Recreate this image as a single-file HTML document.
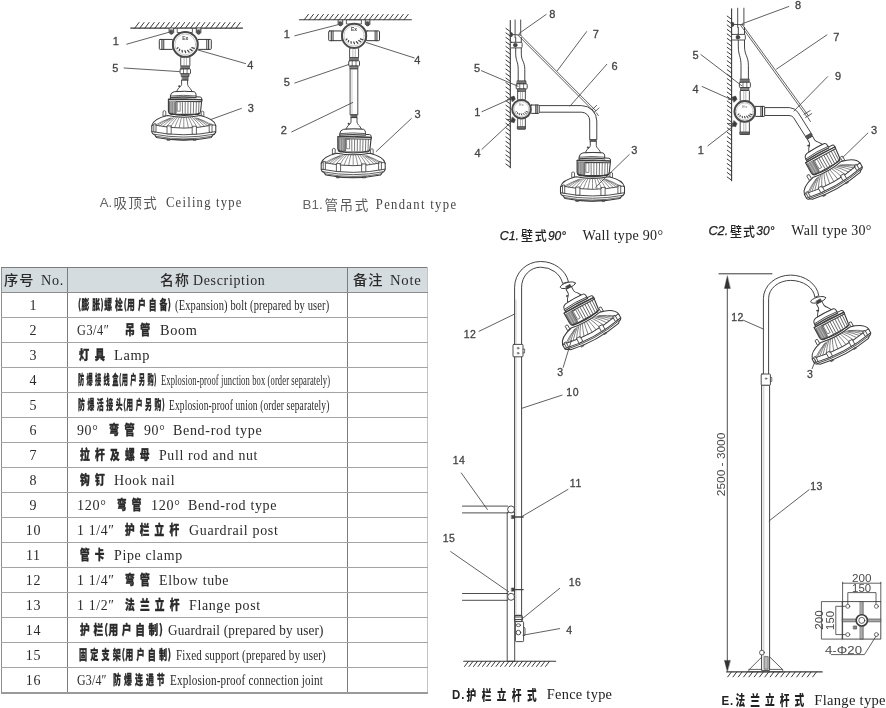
<!DOCTYPE html><html lang="zh-CN"><head><meta charset="utf-8"><title>Installation types</title><style>

html,body{margin:0;padding:0;background:#fff}
#page{position:relative;width:886px;height:708px;overflow:hidden;background:#fff}
#ink{position:absolute;left:0;top:0;width:886px;height:708px;filter:blur(0.5px)}
svg.dwg{position:absolute;left:0;top:0}
table.parts{position:absolute;left:0.7px;top:266.5px;border-collapse:collapse;table-layout:fixed;width:426.8px;
  font-family:"Liberation Serif","Noto Sans CJK SC",serif;color:#2a2a2a}
table.parts th,table.parts td{border-style:solid;border-width:1px;border-color:#a4a4a4 #7c7c7c;height:24px;padding:0;font-weight:normal;overflow:visible}
table.parts th{border-top-color:#7c7c7c;border-bottom-color:#8c8c8c}
table.parts tr>*:first-child{border-left:1px solid #909090}
table.parts tr>*:last-child{border-right-color:#c4c4c4}
table.parts tbody tr:last-child td{border-bottom:2px solid #9a9a9a;height:23px}
table.parts tbody tr:last-child td .cell{height:23px}
table.parts th{background:#d4dcdf}
table.parts td.no{text-align:center;font-size:14px;line-height:24px;letter-spacing:0.7px;padding-right:1.6px}
table.parts td.no span{position:relative;top:1.5px}
.cell{position:relative;height:24px}
.t{position:absolute;top:0;line-height:24px;white-space:nowrap;transform-origin:0 50%}
.l{font-family:"Liberation Serif",serif;font-size:15px;letter-spacing:0.7px;top:0}
.l15{font-size:14.5px;letter-spacing:0.7px;top:0.6px}
.ln{letter-spacing:0.2px}
.c{font-family:"Noto Sans CJK SC","WenQuanYi Zen Hei",sans-serif;font-weight:900;font-size:13px;letter-spacing:7px;top:-1px;-webkit-text-stroke:0.4px #2a2a2a}
.cn{font-family:"Noto Sans CJK SC","WenQuanYi Zen Hei",sans-serif;font-weight:900;font-size:13px;letter-spacing:5px;top:-1px;-webkit-text-stroke:0.3px #2a2a2a}
.p0{font-style:normal;letter-spacing:0.5px}
.p{font-style:normal;letter-spacing:0.5px;margin-left:-3.5px}
.q{font-style:normal;letter-spacing:1px;margin-left:-4px}
.h{font-family:"Noto Sans CJK SC","WenQuanYi Zen Hei",sans-serif;font-weight:500;font-size:13.5px;letter-spacing:1px;top:-0.6px}

</style></head><body><div id="page"><div id="ink">
<svg class="dwg" width="886" height="708" viewBox="0 0 886 708" stroke-linecap="round" stroke-linejoin="round">
<line x1="130.7" y1="28.1" x2="242.6" y2="28.1" stroke="#3a3a3a" stroke-width="1.1" />
<line x1="134.8" y1="28.1" x2="139" y2="22.5" stroke="#3a3a3a" stroke-width="1" />
<line x1="139.86" y1="28.1" x2="144.06" y2="22.5" stroke="#3a3a3a" stroke-width="1" />
<line x1="144.92" y1="28.1" x2="149.12" y2="22.5" stroke="#3a3a3a" stroke-width="1" />
<line x1="149.98" y1="28.1" x2="154.18" y2="22.5" stroke="#3a3a3a" stroke-width="1" />
<line x1="155.04" y1="28.1" x2="159.24" y2="22.5" stroke="#3a3a3a" stroke-width="1" />
<line x1="160.1" y1="28.1" x2="164.3" y2="22.5" stroke="#3a3a3a" stroke-width="1" />
<line x1="165.16" y1="28.1" x2="169.36" y2="22.5" stroke="#3a3a3a" stroke-width="1" />
<line x1="170.22" y1="28.1" x2="174.42" y2="22.5" stroke="#3a3a3a" stroke-width="1" />
<line x1="175.28" y1="28.1" x2="179.48" y2="22.5" stroke="#3a3a3a" stroke-width="1" />
<line x1="180.34" y1="28.1" x2="184.54" y2="22.5" stroke="#3a3a3a" stroke-width="1" />
<line x1="185.4" y1="28.1" x2="189.6" y2="22.5" stroke="#3a3a3a" stroke-width="1" />
<line x1="190.46" y1="28.1" x2="194.66" y2="22.5" stroke="#3a3a3a" stroke-width="1" />
<line x1="195.52" y1="28.1" x2="199.72" y2="22.5" stroke="#3a3a3a" stroke-width="1" />
<line x1="200.58" y1="28.1" x2="204.78" y2="22.5" stroke="#3a3a3a" stroke-width="1" />
<line x1="205.64" y1="28.1" x2="209.84" y2="22.5" stroke="#3a3a3a" stroke-width="1" />
<line x1="210.7" y1="28.1" x2="214.9" y2="22.5" stroke="#3a3a3a" stroke-width="1" />
<line x1="215.76" y1="28.1" x2="219.96" y2="22.5" stroke="#3a3a3a" stroke-width="1" />
<line x1="220.82" y1="28.1" x2="225.02" y2="22.5" stroke="#3a3a3a" stroke-width="1" />
<line x1="225.88" y1="28.1" x2="230.08" y2="22.5" stroke="#3a3a3a" stroke-width="1" />
<line x1="230.94" y1="28.1" x2="235.14" y2="22.5" stroke="#3a3a3a" stroke-width="1" />
<line x1="236" y1="28.1" x2="240.2" y2="22.5" stroke="#3a3a3a" stroke-width="1" />
<rect x="177.6" y="28.3" width="14.8" height="4.2" rx="0" fill="#fff" stroke="#3a3a3a" stroke-width="0.8"/>
<path d="M169.1,28.3 L169.1,32.6 Q171.4,35.8 173.7,32.6 L173.7,28.3" fill="#bbb" stroke="#3a3a3a" stroke-width="0.9" />
<rect x="169.9" y="30.4" width="3" height="3.4" rx="1" fill="#555" stroke="#3a3a3a" stroke-width="0.5"/>
<path d="M196.3,28.3 L196.3,32.6 Q198.6,35.8 200.9,32.6 L200.9,28.3" fill="#bbb" stroke="#3a3a3a" stroke-width="0.9" />
<rect x="197.1" y="30.4" width="3" height="3.4" rx="1" fill="#555" stroke="#3a3a3a" stroke-width="0.5"/>
<g transform="translate(185.3 44.4)" ><rect x="-25.99" y="-4.97" width="13.59" height="9.95" rx="0.8" fill="#fff" stroke="#3a3a3a" stroke-width="1"/><line x1="-23.35" y1="-4.97" x2="-23.35" y2="4.97" stroke="#3a3a3a" stroke-width="1.1" /><line x1="-21.52" y1="-4.97" x2="-21.52" y2="4.97" stroke="#3a3a3a" stroke-width="1" /><rect x="12.4" y="-4.97" width="13.59" height="9.95" rx="0.8" fill="#fff" stroke="#3a3a3a" stroke-width="1"/><line x1="23.35" y1="-4.97" x2="23.35" y2="4.97" stroke="#3a3a3a" stroke-width="1.1" /><line x1="21.52" y1="-4.97" x2="21.52" y2="4.97" stroke="#3a3a3a" stroke-width="1" /><rect x="-4.58" y="12.4" width="9.15" height="9.4" rx="0.6" fill="#fff" stroke="#3a3a3a" stroke-width="0.9"/><line x1="-1.22" y1="13.4" x2="-1.22" y2="20.8" stroke="#888" stroke-width="0.6" /><line x1="1.22" y1="13.4" x2="1.22" y2="20.8" stroke="#888" stroke-width="0.6" /><circle cx="0" cy="0" r="12.4" fill="#fff" stroke="#4a4a4a" stroke-width="2"/><circle cx="0" cy="0" r="10.38" fill="none" stroke="#999" stroke-width="0.5"/><text x="0" y="-4.47" font-family='"Liberation Sans","Noto Sans CJK SC",sans-serif' font-size="5.08" fill="#444" text-anchor="middle" font-weight="bold" >Ex</text><line x1="6.52" y1="3.19" x2="8.95" y2="4.04" stroke="#444" stroke-width="1.27" /><line x1="4.78" y1="4.85" x2="6.8" y2="6.22" stroke="#444" stroke-width="1.27" /><line x1="2.36" y1="5.94" x2="3.82" y2="7.65" stroke="#444" stroke-width="1.27" /><line x1="-0.41" y1="6.33" x2="0.41" y2="8.15" stroke="#444" stroke-width="1.27" /><line x1="-3.18" y1="5.94" x2="-3.01" y2="7.65" stroke="#444" stroke-width="1.27" /><line x1="-5.59" y1="4.85" x2="-5.98" y2="6.22" stroke="#444" stroke-width="1.27" /><line x1="-7.33" y1="3.19" x2="-8.14" y2="4.04" stroke="#444" stroke-width="1.27" /></g>
<rect x="181.24" y="66" width="8.11" height="3.18" rx="0" fill="#777" stroke="#3a3a3a" stroke-width="0.7"/>
<rect x="180.1" y="68.97" width="10.4" height="4.88" rx="0.8" fill="#fff" stroke="#3a3a3a" stroke-width="0.9"/>
<line x1="183.48" y1="68.97" x2="183.48" y2="73.84" stroke="#3a3a3a" stroke-width="0.7" />
<line x1="187.12" y1="68.97" x2="187.12" y2="73.84" stroke="#3a3a3a" stroke-width="0.7" />
<rect x="181.66" y="73.84" width="7.28" height="2.76" rx="0" fill="#888" stroke="#3a3a3a" stroke-width="0.8"/>
<rect x="182.5" y="76.4" width="5.6" height="4.2" rx="0" fill="#777" stroke="#3a3a3a" stroke-width="0.6"/>
<g transform="translate(184.6 80.4)" ><path d="M-3,0 L-3,4 C-3.3,6 -5.2,7 -6.1,7.8 L-8.2,11.2 L7.6,11.2 L5.4,7.8 C4.6,7 3.3,6 3,4 L3,0 Z" fill="#fff" stroke="#3a3a3a" stroke-width="0.9" /><circle cx="-5.4" cy="5.8" r="0.75" fill="#3a3a3a" stroke="#3a3a3a" stroke-width="0.5"/><path d="M-14.2,20.4 L-14.2,15.6 Q-14,12.2 -10.4,11.3 Q0,10.4 9.6,11.3 Q11.4,12 11.4,14.2 L11.4,16.4 L15.6,16.6 Q17.2,16.8 17.2,18.6 L17.2,21 L-14.2,21 Z" fill="#fff" stroke="#3a3a3a" stroke-width="1" /><path d="M-14,15.6 Q-1,14.2 11.4,15.6" fill="none" stroke="#3a3a3a" stroke-width="0.8" /><path d="M-14.1,17.2 Q-1,16.0 11.4,17.2" fill="none" stroke="#444" stroke-width="1.3" /><path d="M-16.2,18.8 L-16.2,30.4 Q-16,33.6 -13.2,34 L13.6,34 Q15.6,33.4 16.0,30.6 L17.2,19.4 Z" fill="#fff" stroke="#3a3a3a" stroke-width="1.1" /><path d="M-16.2,18.8 Q0,17.6 17.2,19.4" fill="none" stroke="#3a3a3a" stroke-width="1" /><path d="M-15.6,21 L-15.6,30.6 Q-15.4,32.6 -13,33 L-8.4,33 L-8.4,21 Z" fill="#8a8a8a" stroke="#3a3a3a" stroke-width="0.6" /><line x1="-13.6" y1="21.6" x2="-13.6" y2="32.6" stroke="#ccc" stroke-width="0.6" /><line x1="-11.2" y1="21.6" x2="-11.2" y2="32.6" stroke="#ccc" stroke-width="0.6" /><rect x="-7" y="21.4" width="2.6" height="9.4" rx="0" fill="#fff" stroke="#3a3a3a" stroke-width="0.6"/><line x1="-2.2" y1="21.6" x2="-2.13" y2="33" stroke="#606060" stroke-width="0.85" /><line x1="0.6" y1="21.6" x2="0.58" y2="33" stroke="#606060" stroke-width="0.85" /><line x1="3.4" y1="21.6" x2="3.3" y2="33" stroke="#606060" stroke-width="0.85" /><line x1="6.2" y1="21.6" x2="6.01" y2="33" stroke="#606060" stroke-width="0.85" /><line x1="9" y1="21.6" x2="8.73" y2="33" stroke="#606060" stroke-width="0.85" /><line x1="11.8" y1="21.6" x2="11.45" y2="33" stroke="#606060" stroke-width="0.85" /><line x1="14.4" y1="21.6" x2="13.97" y2="33" stroke="#606060" stroke-width="0.85" /><path d="M-8.2,20.8 L16.8,21.2" fill="none" stroke="#444" stroke-width="1.1" /><path d="M-15.2,32.8 Q-1,37.2 15.2,32.8" fill="none" stroke="#3a3a3a" stroke-width="1.1" /><path d="M-21.6,35.6 L-21.6,31 Q-20.2,29.6 -18.8,31 L-18.8,34.8 Z" fill="#fff" stroke="#3a3a3a" stroke-width="0.8" /><path d="M16.6,34.8 L16.6,31.4 Q17.9,30.2 19.2,31.4 L19.2,35.8 Z" fill="#fff" stroke="#3a3a3a" stroke-width="0.8" /><g transform="translate(-0.8 0)" ><path d="M-32,45.2 C-31,41 -26.5,37.6 -16.4,35.2 Q0,38.4 16.4,35.2 C26.5,37.6 31,41 32,45.2 L32,51.6 Q31,54.2 29,54.6 L27.4,57 Q0,62.4 -27.4,57 L-29,54.6 Q-31.6,53.8 -32,51.6 Z" fill="#fff" stroke="#3a3a3a" stroke-width="1.05" /><path d="M-32,45.2 Q-30.6,44 -28,44.8 Q0,50.6 28,44.8 Q30.6,44 32,45.2" fill="none" stroke="#3a3a3a" stroke-width="0.9" /><path d="M-31.8,51.2 Q0,57.6 31.8,51.2" fill="none" stroke="#3a3a3a" stroke-width="0.9" /><path d="M-30,53.8 Q0,59.6 30,53.8" fill="none" stroke="#3a3a3a" stroke-width="0.8" /><path d="M-28.4,55.8 Q0,61.2 28.4,55.8" fill="none" stroke="#3a3a3a" stroke-width="0.7" /><path d="M-30,43.82 L-30,51.42 L-27.8,51.42 L-27.8,43.82 Z" fill="#fff" stroke="#3a3a3a" stroke-width="0.8" /><path d="M-16.8,45.88 L-16.8,53.48 L-12.6,53.48 L-12.6,45.88 Z" fill="#fff" stroke="#3a3a3a" stroke-width="0.8" /><path d="M8.4,46.23 L8.4,53.83 L12.6,53.83 L12.6,46.23 Z" fill="#fff" stroke="#3a3a3a" stroke-width="0.8" /><path d="M25.4,44.21 L25.4,51.81 L28.2,51.81 L28.2,44.21 Z" fill="#fff" stroke="#3a3a3a" stroke-width="0.8" /><path d="M-14.09,37.98 Q-22.09,40.85 -28.4,44.71" fill="none" stroke="#555" stroke-width="0.65" /><path d="M-13.14,37.73 Q-20.6,40.9 -26.49,45.06" fill="none" stroke="#555" stroke-width="0.65" /><path d="M-11.89,37.5 Q-18.64,40.99 -23.97,45.49" fill="none" stroke="#555" stroke-width="0.65" /><path d="M-10.36,37.3 Q-16.25,41.12 -20.89,45.95" fill="none" stroke="#555" stroke-width="0.65" /><path d="M-8.59,37.12 Q-13.47,41.26 -17.32,46.4" fill="none" stroke="#555" stroke-width="0.65" /><path d="M-6.63,36.99 Q-10.39,41.4 -13.36,46.81" fill="none" stroke="#555" stroke-width="0.65" /><path d="M-4.5,36.88 Q-7.06,41.5 -9.08,47.13" fill="none" stroke="#555" stroke-width="0.65" /><path d="M-2.28,36.82 Q-3.57,41.58 -4.59,47.33" fill="none" stroke="#555" stroke-width="0.65" /><path d="M0,36.8 Q0,41.6 0,47.4" fill="none" stroke="#555" stroke-width="0.65" /><path d="M2.28,36.82 Q3.57,41.58 4.59,47.33" fill="none" stroke="#555" stroke-width="0.65" /><path d="M4.5,36.88 Q7.06,41.5 9.08,47.13" fill="none" stroke="#555" stroke-width="0.65" /><path d="M6.63,36.99 Q10.39,41.4 13.36,46.81" fill="none" stroke="#555" stroke-width="0.65" /><path d="M8.59,37.12 Q13.47,41.26 17.32,46.4" fill="none" stroke="#555" stroke-width="0.65" /><path d="M10.36,37.3 Q16.25,41.12 20.89,45.95" fill="none" stroke="#555" stroke-width="0.65" /><path d="M11.89,37.5 Q18.64,40.99 23.97,45.49" fill="none" stroke="#555" stroke-width="0.65" /><path d="M13.14,37.73 Q20.6,40.9 26.49,45.06" fill="none" stroke="#555" stroke-width="0.65" /><path d="M14.09,37.98 Q22.09,40.85 28.4,44.71" fill="none" stroke="#555" stroke-width="0.65" /><path d="M-17,58.8 Q-2,60.2 13,58.8" fill="none" stroke="#3a3a3a" stroke-width="0.8" /><rect x="-16.4" y="58.8" width="2.6" height="1.2" rx="0" fill="#666" stroke="#3a3a3a" stroke-width="0.5"/><rect x="9.6" y="58.8" width="2.6" height="1.2" rx="0" fill="#666" stroke="#3a3a3a" stroke-width="0.5"/></g></g>
<line x1="126.7" y1="44.2" x2="170.6" y2="31.8" stroke="#444" stroke-width="0.85" />
<line x1="124.1" y1="68" x2="179.4" y2="71.6" stroke="#444" stroke-width="0.85" />
<line x1="245.6" y1="63.6" x2="198" y2="50" stroke="#444" stroke-width="0.85" />
<line x1="241.4" y1="108.4" x2="210.6" y2="119.6" stroke="#444" stroke-width="0.85" />
<text x="115.8" y="44.76" font-family='"Liberation Sans","Noto Sans CJK SC",sans-serif' font-size="11" fill="#444" text-anchor="middle" stroke="#444" stroke-width="0.3">1</text>
<text x="115.4" y="72.16" font-family='"Liberation Sans","Noto Sans CJK SC",sans-serif' font-size="11" fill="#444" text-anchor="middle" stroke="#444" stroke-width="0.3">5</text>
<text x="250.4" y="68.56" font-family='"Liberation Sans","Noto Sans CJK SC",sans-serif' font-size="11" fill="#444" text-anchor="middle" stroke="#444" stroke-width="0.3">4</text>
<text x="250.8" y="111.96" font-family='"Liberation Sans","Noto Sans CJK SC",sans-serif' font-size="11" fill="#444" text-anchor="middle" stroke="#444" stroke-width="0.3">3</text>
<line x1="299.4" y1="19.8" x2="411.4" y2="19.8" stroke="#3a3a3a" stroke-width="1.1" />
<line x1="304.2" y1="19.8" x2="308.4" y2="14.4" stroke="#3a3a3a" stroke-width="1" />
<line x1="309.19" y1="19.8" x2="313.39" y2="14.4" stroke="#3a3a3a" stroke-width="1" />
<line x1="314.18" y1="19.8" x2="318.38" y2="14.4" stroke="#3a3a3a" stroke-width="1" />
<line x1="319.17" y1="19.8" x2="323.37" y2="14.4" stroke="#3a3a3a" stroke-width="1" />
<line x1="324.16" y1="19.8" x2="328.36" y2="14.4" stroke="#3a3a3a" stroke-width="1" />
<line x1="329.15" y1="19.8" x2="333.35" y2="14.4" stroke="#3a3a3a" stroke-width="1" />
<line x1="334.14" y1="19.8" x2="338.34" y2="14.4" stroke="#3a3a3a" stroke-width="1" />
<line x1="339.13" y1="19.8" x2="343.33" y2="14.4" stroke="#3a3a3a" stroke-width="1" />
<line x1="344.12" y1="19.8" x2="348.32" y2="14.4" stroke="#3a3a3a" stroke-width="1" />
<line x1="349.11" y1="19.8" x2="353.31" y2="14.4" stroke="#3a3a3a" stroke-width="1" />
<line x1="354.1" y1="19.8" x2="358.3" y2="14.4" stroke="#3a3a3a" stroke-width="1" />
<line x1="359.09" y1="19.8" x2="363.29" y2="14.4" stroke="#3a3a3a" stroke-width="1" />
<line x1="364.08" y1="19.8" x2="368.28" y2="14.4" stroke="#3a3a3a" stroke-width="1" />
<line x1="369.07" y1="19.8" x2="373.27" y2="14.4" stroke="#3a3a3a" stroke-width="1" />
<line x1="374.06" y1="19.8" x2="378.26" y2="14.4" stroke="#3a3a3a" stroke-width="1" />
<line x1="379.05" y1="19.8" x2="383.25" y2="14.4" stroke="#3a3a3a" stroke-width="1" />
<line x1="384.04" y1="19.8" x2="388.24" y2="14.4" stroke="#3a3a3a" stroke-width="1" />
<line x1="389.03" y1="19.8" x2="393.23" y2="14.4" stroke="#3a3a3a" stroke-width="1" />
<line x1="394.02" y1="19.8" x2="398.22" y2="14.4" stroke="#3a3a3a" stroke-width="1" />
<line x1="399.01" y1="19.8" x2="403.21" y2="14.4" stroke="#3a3a3a" stroke-width="1" />
<line x1="404" y1="19.8" x2="408.2" y2="14.4" stroke="#3a3a3a" stroke-width="1" />
<rect x="346.8" y="20" width="14.6" height="4" rx="0" fill="#fff" stroke="#3a3a3a" stroke-width="0.8"/>
<path d="M338.1,20 L338.1,24.3 Q340.4,27.4 342.7,24.3 L342.7,20" fill="#bbb" stroke="#3a3a3a" stroke-width="0.9" />
<rect x="338.9" y="22" width="3" height="3.4" rx="1" fill="#555" stroke="#3a3a3a" stroke-width="0.5"/>
<path d="M365.3,20 L365.3,24.3 Q367.6,27.4 369.9,24.3 L369.9,20" fill="#bbb" stroke="#3a3a3a" stroke-width="0.9" />
<rect x="366.1" y="22" width="3" height="3.4" rx="1" fill="#555" stroke="#3a3a3a" stroke-width="0.5"/>
<g transform="translate(354.1 35.8)" ><rect x="-25.41" y="-4.86" width="13.31" height="9.73" rx="0.8" fill="#fff" stroke="#3a3a3a" stroke-width="1"/><line x1="-22.83" y1="-4.86" x2="-22.83" y2="4.86" stroke="#3a3a3a" stroke-width="1.1" /><line x1="-21.04" y1="-4.86" x2="-21.04" y2="4.86" stroke="#3a3a3a" stroke-width="1" /><rect x="12.1" y="-4.86" width="13.31" height="9.73" rx="0.8" fill="#fff" stroke="#3a3a3a" stroke-width="1"/><line x1="22.83" y1="-4.86" x2="22.83" y2="4.86" stroke="#3a3a3a" stroke-width="1.1" /><line x1="21.04" y1="-4.86" x2="21.04" y2="4.86" stroke="#3a3a3a" stroke-width="1" /><rect x="-4.47" y="12.1" width="8.95" height="9.8" rx="0.6" fill="#fff" stroke="#3a3a3a" stroke-width="0.9"/><line x1="-1.19" y1="13.1" x2="-1.19" y2="20.9" stroke="#888" stroke-width="0.6" /><line x1="1.19" y1="13.1" x2="1.19" y2="20.9" stroke="#888" stroke-width="0.6" /><circle cx="0" cy="0" r="12.1" fill="#fff" stroke="#4a4a4a" stroke-width="2"/><circle cx="0" cy="0" r="10.11" fill="none" stroke="#999" stroke-width="0.5"/><text x="0" y="-4.37" font-family='"Liberation Sans","Noto Sans CJK SC",sans-serif' font-size="4.96" fill="#444" text-anchor="middle" font-weight="bold" >Ex</text><line x1="6.34" y1="3.1" x2="8.71" y2="3.94" stroke="#444" stroke-width="1.24" /><line x1="4.64" y1="4.72" x2="6.61" y2="6.06" stroke="#444" stroke-width="1.24" /><line x1="2.29" y1="5.78" x2="3.72" y2="7.45" stroke="#444" stroke-width="1.24" /><line x1="-0.4" y1="6.15" x2="0.4" y2="7.94" stroke="#444" stroke-width="1.24" /><line x1="-3.09" y1="5.78" x2="-2.93" y2="7.45" stroke="#444" stroke-width="1.24" /><line x1="-5.43" y1="4.72" x2="-5.82" y2="6.06" stroke="#444" stroke-width="1.24" /><line x1="-7.13" y1="3.1" x2="-7.91" y2="3.94" stroke="#444" stroke-width="1.24" /></g>
<rect x="349.89" y="57.6" width="8.42" height="3.42" rx="0" fill="#777" stroke="#3a3a3a" stroke-width="0.7"/>
<rect x="348.7" y="60.79" width="10.8" height="5.24" rx="0.8" fill="#fff" stroke="#3a3a3a" stroke-width="0.9"/>
<line x1="352.21" y1="60.79" x2="352.21" y2="66.04" stroke="#3a3a3a" stroke-width="0.7" />
<line x1="355.99" y1="60.79" x2="355.99" y2="66.04" stroke="#3a3a3a" stroke-width="0.7" />
<rect x="350.32" y="66.04" width="7.56" height="2.96" rx="0" fill="#888" stroke="#3a3a3a" stroke-width="0.8"/>
<rect x="350.5" y="68.9" width="7.3" height="46" rx="0" fill="#fff" stroke="#3a3a3a" stroke-width="0.9"/>
<line x1="352" y1="69.5" x2="352" y2="114.5" stroke="#999" stroke-width="0.5" />
<rect x="351.2" y="114.6" width="5.8" height="3.6" rx="0" fill="#666" stroke="#3a3a3a" stroke-width="0.6"/>
<g transform="translate(354 118)" ><path d="M-3,0 L-3,4 C-3.3,6 -5.2,7 -6.1,7.8 L-8.2,11.2 L7.6,11.2 L5.4,7.8 C4.6,7 3.3,6 3,4 L3,0 Z" fill="#fff" stroke="#3a3a3a" stroke-width="0.9" /><circle cx="-5.4" cy="5.8" r="0.75" fill="#3a3a3a" stroke="#3a3a3a" stroke-width="0.5"/><path d="M-14.2,20.4 L-14.2,15.6 Q-14,12.2 -10.4,11.3 Q0,10.4 9.6,11.3 Q11.4,12 11.4,14.2 L11.4,16.4 L15.6,16.6 Q17.2,16.8 17.2,18.6 L17.2,21 L-14.2,21 Z" fill="#fff" stroke="#3a3a3a" stroke-width="1" /><path d="M-14,15.6 Q-1,14.2 11.4,15.6" fill="none" stroke="#3a3a3a" stroke-width="0.8" /><path d="M-14.1,17.2 Q-1,16.0 11.4,17.2" fill="none" stroke="#444" stroke-width="1.3" /><path d="M-16.2,18.8 L-16.2,30.4 Q-16,33.6 -13.2,34 L13.6,34 Q15.6,33.4 16.0,30.6 L17.2,19.4 Z" fill="#fff" stroke="#3a3a3a" stroke-width="1.1" /><path d="M-16.2,18.8 Q0,17.6 17.2,19.4" fill="none" stroke="#3a3a3a" stroke-width="1" /><path d="M-15.6,21 L-15.6,30.6 Q-15.4,32.6 -13,33 L-8.4,33 L-8.4,21 Z" fill="#8a8a8a" stroke="#3a3a3a" stroke-width="0.6" /><line x1="-13.6" y1="21.6" x2="-13.6" y2="32.6" stroke="#ccc" stroke-width="0.6" /><line x1="-11.2" y1="21.6" x2="-11.2" y2="32.6" stroke="#ccc" stroke-width="0.6" /><rect x="-7" y="21.4" width="2.6" height="9.4" rx="0" fill="#fff" stroke="#3a3a3a" stroke-width="0.6"/><line x1="-2.2" y1="21.6" x2="-2.13" y2="33" stroke="#606060" stroke-width="0.85" /><line x1="0.6" y1="21.6" x2="0.58" y2="33" stroke="#606060" stroke-width="0.85" /><line x1="3.4" y1="21.6" x2="3.3" y2="33" stroke="#606060" stroke-width="0.85" /><line x1="6.2" y1="21.6" x2="6.01" y2="33" stroke="#606060" stroke-width="0.85" /><line x1="9" y1="21.6" x2="8.73" y2="33" stroke="#606060" stroke-width="0.85" /><line x1="11.8" y1="21.6" x2="11.45" y2="33" stroke="#606060" stroke-width="0.85" /><line x1="14.4" y1="21.6" x2="13.97" y2="33" stroke="#606060" stroke-width="0.85" /><path d="M-8.2,20.8 L16.8,21.2" fill="none" stroke="#444" stroke-width="1.1" /><path d="M-15.2,32.8 Q-1,37.2 15.2,32.8" fill="none" stroke="#3a3a3a" stroke-width="1.1" /><path d="M-21.6,35.6 L-21.6,31 Q-20.2,29.6 -18.8,31 L-18.8,34.8 Z" fill="#fff" stroke="#3a3a3a" stroke-width="0.8" /><path d="M16.6,34.8 L16.6,31.4 Q17.9,30.2 19.2,31.4 L19.2,35.8 Z" fill="#fff" stroke="#3a3a3a" stroke-width="0.8" /><g transform="translate(-0.8 0)" ><path d="M-32,45.2 C-31,41 -26.5,37.6 -16.4,35.2 Q0,38.4 16.4,35.2 C26.5,37.6 31,41 32,45.2 L32,51.6 Q31,54.2 29,54.6 L27.4,57 Q0,62.4 -27.4,57 L-29,54.6 Q-31.6,53.8 -32,51.6 Z" fill="#fff" stroke="#3a3a3a" stroke-width="1.05" /><path d="M-32,45.2 Q-30.6,44 -28,44.8 Q0,50.6 28,44.8 Q30.6,44 32,45.2" fill="none" stroke="#3a3a3a" stroke-width="0.9" /><path d="M-31.8,51.2 Q0,57.6 31.8,51.2" fill="none" stroke="#3a3a3a" stroke-width="0.9" /><path d="M-30,53.8 Q0,59.6 30,53.8" fill="none" stroke="#3a3a3a" stroke-width="0.8" /><path d="M-28.4,55.8 Q0,61.2 28.4,55.8" fill="none" stroke="#3a3a3a" stroke-width="0.7" /><path d="M-30,43.82 L-30,51.42 L-27.8,51.42 L-27.8,43.82 Z" fill="#fff" stroke="#3a3a3a" stroke-width="0.8" /><path d="M-16.8,45.88 L-16.8,53.48 L-12.6,53.48 L-12.6,45.88 Z" fill="#fff" stroke="#3a3a3a" stroke-width="0.8" /><path d="M8.4,46.23 L8.4,53.83 L12.6,53.83 L12.6,46.23 Z" fill="#fff" stroke="#3a3a3a" stroke-width="0.8" /><path d="M25.4,44.21 L25.4,51.81 L28.2,51.81 L28.2,44.21 Z" fill="#fff" stroke="#3a3a3a" stroke-width="0.8" /><path d="M-14.09,37.98 Q-22.09,40.85 -28.4,44.71" fill="none" stroke="#555" stroke-width="0.65" /><path d="M-13.14,37.73 Q-20.6,40.9 -26.49,45.06" fill="none" stroke="#555" stroke-width="0.65" /><path d="M-11.89,37.5 Q-18.64,40.99 -23.97,45.49" fill="none" stroke="#555" stroke-width="0.65" /><path d="M-10.36,37.3 Q-16.25,41.12 -20.89,45.95" fill="none" stroke="#555" stroke-width="0.65" /><path d="M-8.59,37.12 Q-13.47,41.26 -17.32,46.4" fill="none" stroke="#555" stroke-width="0.65" /><path d="M-6.63,36.99 Q-10.39,41.4 -13.36,46.81" fill="none" stroke="#555" stroke-width="0.65" /><path d="M-4.5,36.88 Q-7.06,41.5 -9.08,47.13" fill="none" stroke="#555" stroke-width="0.65" /><path d="M-2.28,36.82 Q-3.57,41.58 -4.59,47.33" fill="none" stroke="#555" stroke-width="0.65" /><path d="M0,36.8 Q0,41.6 0,47.4" fill="none" stroke="#555" stroke-width="0.65" /><path d="M2.28,36.82 Q3.57,41.58 4.59,47.33" fill="none" stroke="#555" stroke-width="0.65" /><path d="M4.5,36.88 Q7.06,41.5 9.08,47.13" fill="none" stroke="#555" stroke-width="0.65" /><path d="M6.63,36.99 Q10.39,41.4 13.36,46.81" fill="none" stroke="#555" stroke-width="0.65" /><path d="M8.59,37.12 Q13.47,41.26 17.32,46.4" fill="none" stroke="#555" stroke-width="0.65" /><path d="M10.36,37.3 Q16.25,41.12 20.89,45.95" fill="none" stroke="#555" stroke-width="0.65" /><path d="M11.89,37.5 Q18.64,40.99 23.97,45.49" fill="none" stroke="#555" stroke-width="0.65" /><path d="M13.14,37.73 Q20.6,40.9 26.49,45.06" fill="none" stroke="#555" stroke-width="0.65" /><path d="M14.09,37.98 Q22.09,40.85 28.4,44.71" fill="none" stroke="#555" stroke-width="0.65" /><path d="M-17,58.8 Q-2,60.2 13,58.8" fill="none" stroke="#3a3a3a" stroke-width="0.8" /><rect x="-16.4" y="58.8" width="2.6" height="1.2" rx="0" fill="#666" stroke="#3a3a3a" stroke-width="0.5"/><rect x="9.6" y="58.8" width="2.6" height="1.2" rx="0" fill="#666" stroke="#3a3a3a" stroke-width="0.5"/></g></g>
<line x1="294.8" y1="35.8" x2="338.4" y2="24.6" stroke="#444" stroke-width="0.85" />
<line x1="294.8" y1="83" x2="349" y2="64.4" stroke="#444" stroke-width="0.85" />
<line x1="414.2" y1="57.9" x2="366.4" y2="42.6" stroke="#444" stroke-width="0.85" />
<line x1="291.7" y1="131.9" x2="352.7" y2="102.5" stroke="#444" stroke-width="0.85" />
<line x1="411.4" y1="118.5" x2="376.2" y2="151.5" stroke="#444" stroke-width="0.85" />
<text x="286.9" y="37.96" font-family='"Liberation Sans","Noto Sans CJK SC",sans-serif' font-size="11" fill="#444" text-anchor="middle" stroke="#444" stroke-width="0.3">1</text>
<text x="286.9" y="86.16" font-family='"Liberation Sans","Noto Sans CJK SC",sans-serif' font-size="11" fill="#444" text-anchor="middle" stroke="#444" stroke-width="0.3">5</text>
<text x="417.3" y="63.76" font-family='"Liberation Sans","Noto Sans CJK SC",sans-serif' font-size="11" fill="#444" text-anchor="middle" stroke="#444" stroke-width="0.3">4</text>
<text x="417.6" y="117.76" font-family='"Liberation Sans","Noto Sans CJK SC",sans-serif' font-size="11" fill="#444" text-anchor="middle" stroke="#444" stroke-width="0.3">3</text>
<text x="283.8" y="133.96" font-family='"Liberation Sans","Noto Sans CJK SC",sans-serif' font-size="11" fill="#444" text-anchor="middle" stroke="#444" stroke-width="0.3">2</text>
<path d="M538.6,105.6 L581.4,105.6 A15.4,15.4 0 0 1 596.8,121 L596.8,139.8 L589.7,139.8 L589.7,121 A8.3,8.3 0 0 0 581.4,112.2 L538.6,112.2 Z" fill="#fff" stroke="#3a3a3a" stroke-width="0.95" />
<rect x="590.4" y="139.6" width="5.8" height="2.6" rx="0" fill="#666" stroke="#3a3a3a" stroke-width="0.6"/>
<line x1="510.3" y1="20.6" x2="510.3" y2="167.7" stroke="#3a3a3a" stroke-width="1.1" />
<line x1="510.3" y1="31.6" x2="505.9" y2="28.4" stroke="#3a3a3a" stroke-width="1" />
<line x1="510.3" y1="36.12" x2="505.9" y2="32.92" stroke="#3a3a3a" stroke-width="1" />
<line x1="510.3" y1="40.64" x2="505.9" y2="37.44" stroke="#3a3a3a" stroke-width="1" />
<line x1="510.3" y1="45.16" x2="505.9" y2="41.96" stroke="#3a3a3a" stroke-width="1" />
<line x1="510.3" y1="49.68" x2="505.9" y2="46.48" stroke="#3a3a3a" stroke-width="1" />
<line x1="510.3" y1="54.2" x2="505.9" y2="51" stroke="#3a3a3a" stroke-width="1" />
<line x1="510.3" y1="58.72" x2="505.9" y2="55.52" stroke="#3a3a3a" stroke-width="1" />
<line x1="510.3" y1="63.24" x2="505.9" y2="60.04" stroke="#3a3a3a" stroke-width="1" />
<line x1="510.3" y1="67.76" x2="505.9" y2="64.56" stroke="#3a3a3a" stroke-width="1" />
<line x1="510.3" y1="72.28" x2="505.9" y2="69.08" stroke="#3a3a3a" stroke-width="1" />
<line x1="510.3" y1="76.8" x2="505.9" y2="73.6" stroke="#3a3a3a" stroke-width="1" />
<line x1="510.3" y1="81.32" x2="505.9" y2="78.12" stroke="#3a3a3a" stroke-width="1" />
<line x1="510.3" y1="85.84" x2="505.9" y2="82.64" stroke="#3a3a3a" stroke-width="1" />
<line x1="510.3" y1="90.36" x2="505.9" y2="87.16" stroke="#3a3a3a" stroke-width="1" />
<line x1="510.3" y1="94.88" x2="505.9" y2="91.68" stroke="#3a3a3a" stroke-width="1" />
<line x1="510.3" y1="99.4" x2="505.9" y2="96.2" stroke="#3a3a3a" stroke-width="1" />
<line x1="510.3" y1="103.92" x2="505.9" y2="100.72" stroke="#3a3a3a" stroke-width="1" />
<line x1="510.3" y1="108.44" x2="505.9" y2="105.24" stroke="#3a3a3a" stroke-width="1" />
<line x1="510.3" y1="112.96" x2="505.9" y2="109.76" stroke="#3a3a3a" stroke-width="1" />
<line x1="510.3" y1="117.48" x2="505.9" y2="114.28" stroke="#3a3a3a" stroke-width="1" />
<line x1="510.3" y1="122" x2="505.9" y2="118.8" stroke="#3a3a3a" stroke-width="1" />
<line x1="510.3" y1="126.52" x2="505.9" y2="123.32" stroke="#3a3a3a" stroke-width="1" />
<line x1="510.3" y1="131.04" x2="505.9" y2="127.84" stroke="#3a3a3a" stroke-width="1" />
<line x1="510.3" y1="135.56" x2="505.9" y2="132.36" stroke="#3a3a3a" stroke-width="1" />
<line x1="510.3" y1="140.08" x2="505.9" y2="136.88" stroke="#3a3a3a" stroke-width="1" />
<line x1="510.3" y1="144.6" x2="505.9" y2="141.4" stroke="#3a3a3a" stroke-width="1" />
<line x1="510.3" y1="149.12" x2="505.9" y2="145.92" stroke="#3a3a3a" stroke-width="1" />
<line x1="510.3" y1="153.64" x2="505.9" y2="150.44" stroke="#3a3a3a" stroke-width="1" />
<line x1="510.3" y1="158.16" x2="505.9" y2="154.96" stroke="#3a3a3a" stroke-width="1" />
<line x1="510.3" y1="162.68" x2="505.9" y2="159.48" stroke="#3a3a3a" stroke-width="1" />
<line x1="510.3" y1="167.2" x2="505.9" y2="164" stroke="#3a3a3a" stroke-width="1" />
<line x1="515.1" y1="20" x2="515.1" y2="37.6" stroke="#3a3a3a" stroke-width="0.9" />
<line x1="520.7" y1="20" x2="520.7" y2="33.6" stroke="#3a3a3a" stroke-width="0.9" />
<path d="M510.5,32.3 a2.3,2.3 0 0 1 0,4.6 Z" fill="#444" stroke="#3a3a3a" stroke-width="0.5" />
<line x1="512.7" y1="34.6" x2="521.1" y2="35" stroke="#3a3a3a" stroke-width="0.9" />
<path d="M515.7,37.6 L515.7,53.15 C515.7,61.36 518.2,61.36 518.2,69.57 L518.2,80.8" fill="none" stroke="#3a3a3a" stroke-width="0.95" />
<path d="M521.3,37.6 L521.3,53.15 C521.3,61.36 524.8,61.36 524.8,69.57 L524.8,80.8" fill="none" stroke="#3a3a3a" stroke-width="0.95" />
<rect x="510.3" y="42.3" width="11.8" height="5.6" rx="1" fill="#fff" stroke="#3a3a3a" stroke-width="0.9"/>
<circle cx="515.3" cy="45.1" r="1.9" fill="#444" stroke="#3a3a3a" stroke-width="0.6"/>
<rect x="517.41" y="80.8" width="8.58" height="3.3" rx="0" fill="#777" stroke="#3a3a3a" stroke-width="0.7"/>
<rect x="516.2" y="83.88" width="11" height="5.06" rx="0.8" fill="#fff" stroke="#3a3a3a" stroke-width="0.9"/>
<line x1="519.78" y1="83.88" x2="519.78" y2="88.94" stroke="#3a3a3a" stroke-width="0.7" />
<line x1="523.62" y1="83.88" x2="523.62" y2="88.94" stroke="#3a3a3a" stroke-width="0.7" />
<rect x="517.85" y="88.94" width="7.7" height="2.86" rx="0" fill="#888" stroke="#3a3a3a" stroke-width="0.8"/>
<g transform="translate(521.5 109.2)" ><rect x="-3.86" y="-17.9" width="7.73" height="8.6" rx="0.6" fill="#fff" stroke="#3a3a3a" stroke-width="0.9"/><line x1="-0.94" y1="-10.3" x2="-0.94" y2="-16.9" stroke="#888" stroke-width="0.6" /><line x1="0.94" y1="-10.3" x2="0.94" y2="-16.9" stroke="#888" stroke-width="0.6" /><rect x="-3.86" y="9.3" width="7.73" height="10.6" rx="0.6" fill="#fff" stroke="#3a3a3a" stroke-width="0.9"/><line x1="-0.94" y1="10.3" x2="-0.94" y2="18.9" stroke="#888" stroke-width="0.6" /><line x1="0.94" y1="10.3" x2="0.94" y2="18.9" stroke="#888" stroke-width="0.6" /><rect x="-3.86" y="17.3" width="7.73" height="2.6" rx="0" fill="#666" stroke="#3a3a3a" stroke-width="0.6"/><rect x="9.3" y="-4.2" width="8.4" height="8.4" rx="0.8" fill="#fff" stroke="#3a3a3a" stroke-width="1"/><line x1="15.67" y1="-4.2" x2="15.67" y2="4.2" stroke="#3a3a3a" stroke-width="1.1" /><line x1="14.27" y1="-4.2" x2="14.27" y2="4.2" stroke="#3a3a3a" stroke-width="1" /><circle cx="0" cy="0" r="9.3" fill="#fff" stroke="#4a4a4a" stroke-width="2"/><circle cx="0" cy="0" r="7.52" fill="none" stroke="#999" stroke-width="0.5"/><text x="0" y="-3.43" font-family='"Liberation Sans","Noto Sans CJK SC",sans-serif' font-size="3.9" fill="#777" text-anchor="middle" >Ex</text><line x1="4.6" y1="2.28" x2="6.47" y2="2.94" stroke="#444" stroke-width="0.98" /><line x1="3.37" y1="3.46" x2="4.92" y2="4.51" stroke="#444" stroke-width="0.98" /><line x1="1.65" y1="4.23" x2="2.77" y2="5.55" stroke="#444" stroke-width="0.98" /><line x1="-0.31" y1="4.5" x2="0.31" y2="5.91" stroke="#444" stroke-width="0.98" /><line x1="-2.28" y1="4.23" x2="-2.15" y2="5.55" stroke="#444" stroke-width="0.98" /><line x1="-3.99" y1="3.46" x2="-4.29" y2="4.51" stroke="#444" stroke-width="0.98" /><line x1="-5.23" y1="2.28" x2="-5.85" y2="2.94" stroke="#444" stroke-width="0.98" /></g>
<path d="M510.5,97.3 l3.6,-1.2 l1.2,3 l-2.6,2.6 Z" fill="#3a3a3a" stroke="#3a3a3a" stroke-width="0.6" />
<line x1="507.3" y1="99.3" x2="511.3" y2="99.3" stroke="#555" stroke-width="1" />
<path d="M510.5,121.5 l3.6,1.2 l1.2,-3 l-2.6,-2.6 Z" fill="#3a3a3a" stroke="#3a3a3a" stroke-width="0.6" />
<line x1="507.3" y1="119.5" x2="511.3" y2="119.5" stroke="#555" stroke-width="1" />
<line x1="518.2" y1="35.4" x2="594.4" y2="111.9" stroke="#3a3a3a" stroke-width="0.8" />
<line x1="519.6" y1="34.2" x2="595.8" y2="110.7" stroke="#3a3a3a" stroke-width="0.8" />
<path d="M592.2,109.6 L596.6,105.4 M594.2,112.4 L599.0,108.0 M596.4,112.8 L598.4,115.6" fill="none" stroke="#3a3a3a" stroke-width="0.8" />
<g transform="translate(593.3 141.6)" ><path d="M-3,0 L-3,4 C-3.3,6 -5.2,7 -6.1,7.8 L-8.2,11.2 L7.6,11.2 L5.4,7.8 C4.6,7 3.3,6 3,4 L3,0 Z" fill="#fff" stroke="#3a3a3a" stroke-width="0.9" /><circle cx="-5.4" cy="5.8" r="0.75" fill="#3a3a3a" stroke="#3a3a3a" stroke-width="0.5"/><path d="M-14.2,20.4 L-14.2,15.6 Q-14,12.2 -10.4,11.3 Q0,10.4 9.6,11.3 Q11.4,12 11.4,14.2 L11.4,16.4 L15.6,16.6 Q17.2,16.8 17.2,18.6 L17.2,21 L-14.2,21 Z" fill="#fff" stroke="#3a3a3a" stroke-width="1" /><path d="M-14,15.6 Q-1,14.2 11.4,15.6" fill="none" stroke="#3a3a3a" stroke-width="0.8" /><path d="M-14.1,17.2 Q-1,16.0 11.4,17.2" fill="none" stroke="#444" stroke-width="1.3" /><path d="M-16.2,18.8 L-16.2,30.4 Q-16,33.6 -13.2,34 L13.6,34 Q15.6,33.4 16.0,30.6 L17.2,19.4 Z" fill="#fff" stroke="#3a3a3a" stroke-width="1.1" /><path d="M-16.2,18.8 Q0,17.6 17.2,19.4" fill="none" stroke="#3a3a3a" stroke-width="1" /><path d="M-15.6,21 L-15.6,30.6 Q-15.4,32.6 -13,33 L-8.4,33 L-8.4,21 Z" fill="#8a8a8a" stroke="#3a3a3a" stroke-width="0.6" /><line x1="-13.6" y1="21.6" x2="-13.6" y2="32.6" stroke="#ccc" stroke-width="0.6" /><line x1="-11.2" y1="21.6" x2="-11.2" y2="32.6" stroke="#ccc" stroke-width="0.6" /><rect x="-7" y="21.4" width="2.6" height="9.4" rx="0" fill="#fff" stroke="#3a3a3a" stroke-width="0.6"/><line x1="-2.2" y1="21.6" x2="-2.13" y2="33" stroke="#606060" stroke-width="0.85" /><line x1="0.6" y1="21.6" x2="0.58" y2="33" stroke="#606060" stroke-width="0.85" /><line x1="3.4" y1="21.6" x2="3.3" y2="33" stroke="#606060" stroke-width="0.85" /><line x1="6.2" y1="21.6" x2="6.01" y2="33" stroke="#606060" stroke-width="0.85" /><line x1="9" y1="21.6" x2="8.73" y2="33" stroke="#606060" stroke-width="0.85" /><line x1="11.8" y1="21.6" x2="11.45" y2="33" stroke="#606060" stroke-width="0.85" /><line x1="14.4" y1="21.6" x2="13.97" y2="33" stroke="#606060" stroke-width="0.85" /><path d="M-8.2,20.8 L16.8,21.2" fill="none" stroke="#444" stroke-width="1.1" /><path d="M-15.2,32.8 Q-1,37.2 15.2,32.8" fill="none" stroke="#3a3a3a" stroke-width="1.1" /><path d="M-21.6,35.6 L-21.6,31 Q-20.2,29.6 -18.8,31 L-18.8,34.8 Z" fill="#fff" stroke="#3a3a3a" stroke-width="0.8" /><path d="M16.6,34.8 L16.6,31.4 Q17.9,30.2 19.2,31.4 L19.2,35.8 Z" fill="#fff" stroke="#3a3a3a" stroke-width="0.8" /><g transform="translate(-0.8 0)" ><path d="M-32,45.2 C-31,41 -26.5,37.6 -16.4,35.2 Q0,38.4 16.4,35.2 C26.5,37.6 31,41 32,45.2 L32,51.6 Q31,54.2 29,54.6 L27.4,57 Q0,62.4 -27.4,57 L-29,54.6 Q-31.6,53.8 -32,51.6 Z" fill="#fff" stroke="#3a3a3a" stroke-width="1.05" /><path d="M-32,45.2 Q-30.6,44 -28,44.8 Q0,50.6 28,44.8 Q30.6,44 32,45.2" fill="none" stroke="#3a3a3a" stroke-width="0.9" /><path d="M-31.8,51.2 Q0,57.6 31.8,51.2" fill="none" stroke="#3a3a3a" stroke-width="0.9" /><path d="M-30,53.8 Q0,59.6 30,53.8" fill="none" stroke="#3a3a3a" stroke-width="0.8" /><path d="M-28.4,55.8 Q0,61.2 28.4,55.8" fill="none" stroke="#3a3a3a" stroke-width="0.7" /><path d="M-30,43.82 L-30,51.42 L-27.8,51.42 L-27.8,43.82 Z" fill="#fff" stroke="#3a3a3a" stroke-width="0.8" /><path d="M-16.8,45.88 L-16.8,53.48 L-12.6,53.48 L-12.6,45.88 Z" fill="#fff" stroke="#3a3a3a" stroke-width="0.8" /><path d="M8.4,46.23 L8.4,53.83 L12.6,53.83 L12.6,46.23 Z" fill="#fff" stroke="#3a3a3a" stroke-width="0.8" /><path d="M25.4,44.21 L25.4,51.81 L28.2,51.81 L28.2,44.21 Z" fill="#fff" stroke="#3a3a3a" stroke-width="0.8" /><path d="M-14.09,37.98 Q-22.09,40.85 -28.4,44.71" fill="none" stroke="#555" stroke-width="0.65" /><path d="M-13.14,37.73 Q-20.6,40.9 -26.49,45.06" fill="none" stroke="#555" stroke-width="0.65" /><path d="M-11.89,37.5 Q-18.64,40.99 -23.97,45.49" fill="none" stroke="#555" stroke-width="0.65" /><path d="M-10.36,37.3 Q-16.25,41.12 -20.89,45.95" fill="none" stroke="#555" stroke-width="0.65" /><path d="M-8.59,37.12 Q-13.47,41.26 -17.32,46.4" fill="none" stroke="#555" stroke-width="0.65" /><path d="M-6.63,36.99 Q-10.39,41.4 -13.36,46.81" fill="none" stroke="#555" stroke-width="0.65" /><path d="M-4.5,36.88 Q-7.06,41.5 -9.08,47.13" fill="none" stroke="#555" stroke-width="0.65" /><path d="M-2.28,36.82 Q-3.57,41.58 -4.59,47.33" fill="none" stroke="#555" stroke-width="0.65" /><path d="M0,36.8 Q0,41.6 0,47.4" fill="none" stroke="#555" stroke-width="0.65" /><path d="M2.28,36.82 Q3.57,41.58 4.59,47.33" fill="none" stroke="#555" stroke-width="0.65" /><path d="M4.5,36.88 Q7.06,41.5 9.08,47.13" fill="none" stroke="#555" stroke-width="0.65" /><path d="M6.63,36.99 Q10.39,41.4 13.36,46.81" fill="none" stroke="#555" stroke-width="0.65" /><path d="M8.59,37.12 Q13.47,41.26 17.32,46.4" fill="none" stroke="#555" stroke-width="0.65" /><path d="M10.36,37.3 Q16.25,41.12 20.89,45.95" fill="none" stroke="#555" stroke-width="0.65" /><path d="M11.89,37.5 Q18.64,40.99 23.97,45.49" fill="none" stroke="#555" stroke-width="0.65" /><path d="M13.14,37.73 Q20.6,40.9 26.49,45.06" fill="none" stroke="#555" stroke-width="0.65" /><path d="M14.09,37.98 Q22.09,40.85 28.4,44.71" fill="none" stroke="#555" stroke-width="0.65" /><path d="M-17,58.8 Q-2,60.2 13,58.8" fill="none" stroke="#3a3a3a" stroke-width="0.8" /><rect x="-16.4" y="58.8" width="2.6" height="1.2" rx="0" fill="#666" stroke="#3a3a3a" stroke-width="0.5"/><rect x="9.6" y="58.8" width="2.6" height="1.2" rx="0" fill="#666" stroke="#3a3a3a" stroke-width="0.5"/></g></g>
<line x1="546.2" y1="14.4" x2="519.2" y2="33.4" stroke="#444" stroke-width="0.85" />
<line x1="586.6" y1="31.6" x2="557.3" y2="70.7" stroke="#444" stroke-width="0.85" />
<line x1="606.8" y1="64.3" x2="570.1" y2="106" stroke="#444" stroke-width="0.85" />
<line x1="481.4" y1="70.7" x2="518.1" y2="86.3" stroke="#444" stroke-width="0.85" />
<line x1="481.9" y1="111.7" x2="511.3" y2="98.6" stroke="#444" stroke-width="0.85" />
<line x1="481.9" y1="149.3" x2="513.8" y2="119.6" stroke="#444" stroke-width="0.85" />
<line x1="629.3" y1="154.5" x2="595.6" y2="187.2" stroke="#444" stroke-width="0.85" />
<text x="552.3" y="17.76" font-family='"Liberation Sans","Noto Sans CJK SC",sans-serif' font-size="11" fill="#444" text-anchor="middle" stroke="#444" stroke-width="0.3">8</text>
<text x="595.8" y="37.56" font-family='"Liberation Sans","Noto Sans CJK SC",sans-serif' font-size="11" fill="#444" text-anchor="middle" stroke="#444" stroke-width="0.3">7</text>
<text x="614.6" y="69.76" font-family='"Liberation Sans","Noto Sans CJK SC",sans-serif' font-size="11" fill="#444" text-anchor="middle" stroke="#444" stroke-width="0.3">6</text>
<text x="477" y="71.96" font-family='"Liberation Sans","Noto Sans CJK SC",sans-serif' font-size="11" fill="#444" text-anchor="middle" stroke="#444" stroke-width="0.3">5</text>
<text x="477.2" y="115.76" font-family='"Liberation Sans","Noto Sans CJK SC",sans-serif' font-size="11" fill="#444" text-anchor="middle" stroke="#444" stroke-width="0.3">1</text>
<text x="477.6" y="156.76" font-family='"Liberation Sans","Noto Sans CJK SC",sans-serif' font-size="11" fill="#444" text-anchor="middle" stroke="#444" stroke-width="0.3">4</text>
<text x="634.3" y="154.36" font-family='"Liberation Sans","Noto Sans CJK SC",sans-serif' font-size="11" fill="#444" text-anchor="middle" stroke="#444" stroke-width="0.3">3</text>
<path d="M764.5,107.6 L789.6,107.6 Q795.2,108.2 798.0,112.4 L812.2,134.9 L806.6,138.2 L793.4,117.4 Q792.0,115.6 789.0,115.5 L764.5,115.5 Z" fill="#fff" stroke="#3a3a3a" stroke-width="0.95" />
<line x1="731.6" y1="8.8" x2="731.6" y2="180.7" stroke="#3a3a3a" stroke-width="1.1" />
<line x1="731.6" y1="19.3" x2="727.2" y2="16.1" stroke="#3a3a3a" stroke-width="1" />
<line x1="731.6" y1="23.77" x2="727.2" y2="20.57" stroke="#3a3a3a" stroke-width="1" />
<line x1="731.6" y1="28.24" x2="727.2" y2="25.04" stroke="#3a3a3a" stroke-width="1" />
<line x1="731.6" y1="32.71" x2="727.2" y2="29.51" stroke="#3a3a3a" stroke-width="1" />
<line x1="731.6" y1="37.18" x2="727.2" y2="33.98" stroke="#3a3a3a" stroke-width="1" />
<line x1="731.6" y1="41.65" x2="727.2" y2="38.45" stroke="#3a3a3a" stroke-width="1" />
<line x1="731.6" y1="46.12" x2="727.2" y2="42.92" stroke="#3a3a3a" stroke-width="1" />
<line x1="731.6" y1="50.59" x2="727.2" y2="47.39" stroke="#3a3a3a" stroke-width="1" />
<line x1="731.6" y1="55.06" x2="727.2" y2="51.86" stroke="#3a3a3a" stroke-width="1" />
<line x1="731.6" y1="59.52" x2="727.2" y2="56.32" stroke="#3a3a3a" stroke-width="1" />
<line x1="731.6" y1="63.99" x2="727.2" y2="60.79" stroke="#3a3a3a" stroke-width="1" />
<line x1="731.6" y1="68.46" x2="727.2" y2="65.26" stroke="#3a3a3a" stroke-width="1" />
<line x1="731.6" y1="72.93" x2="727.2" y2="69.73" stroke="#3a3a3a" stroke-width="1" />
<line x1="731.6" y1="77.4" x2="727.2" y2="74.2" stroke="#3a3a3a" stroke-width="1" />
<line x1="731.6" y1="81.87" x2="727.2" y2="78.67" stroke="#3a3a3a" stroke-width="1" />
<line x1="731.6" y1="86.34" x2="727.2" y2="83.14" stroke="#3a3a3a" stroke-width="1" />
<line x1="731.6" y1="90.81" x2="727.2" y2="87.61" stroke="#3a3a3a" stroke-width="1" />
<line x1="731.6" y1="95.28" x2="727.2" y2="92.08" stroke="#3a3a3a" stroke-width="1" />
<line x1="731.6" y1="99.75" x2="727.2" y2="96.55" stroke="#3a3a3a" stroke-width="1" />
<line x1="731.6" y1="104.22" x2="727.2" y2="101.02" stroke="#3a3a3a" stroke-width="1" />
<line x1="731.6" y1="108.69" x2="727.2" y2="105.49" stroke="#3a3a3a" stroke-width="1" />
<line x1="731.6" y1="113.16" x2="727.2" y2="109.96" stroke="#3a3a3a" stroke-width="1" />
<line x1="731.6" y1="117.63" x2="727.2" y2="114.43" stroke="#3a3a3a" stroke-width="1" />
<line x1="731.6" y1="122.1" x2="727.2" y2="118.9" stroke="#3a3a3a" stroke-width="1" />
<line x1="731.6" y1="126.57" x2="727.2" y2="123.37" stroke="#3a3a3a" stroke-width="1" />
<line x1="731.6" y1="131.04" x2="727.2" y2="127.84" stroke="#3a3a3a" stroke-width="1" />
<line x1="731.6" y1="135.51" x2="727.2" y2="132.31" stroke="#3a3a3a" stroke-width="1" />
<line x1="731.6" y1="139.97" x2="727.2" y2="136.78" stroke="#3a3a3a" stroke-width="1" />
<line x1="731.6" y1="144.44" x2="727.2" y2="141.24" stroke="#3a3a3a" stroke-width="1" />
<line x1="731.6" y1="148.91" x2="727.2" y2="145.71" stroke="#3a3a3a" stroke-width="1" />
<line x1="731.6" y1="153.38" x2="727.2" y2="150.18" stroke="#3a3a3a" stroke-width="1" />
<line x1="731.6" y1="157.85" x2="727.2" y2="154.65" stroke="#3a3a3a" stroke-width="1" />
<line x1="731.6" y1="162.32" x2="727.2" y2="159.12" stroke="#3a3a3a" stroke-width="1" />
<line x1="731.6" y1="166.79" x2="727.2" y2="163.59" stroke="#3a3a3a" stroke-width="1" />
<line x1="731.6" y1="171.26" x2="727.2" y2="168.06" stroke="#3a3a3a" stroke-width="1" />
<line x1="731.6" y1="175.73" x2="727.2" y2="172.53" stroke="#3a3a3a" stroke-width="1" />
<line x1="731.6" y1="180.2" x2="727.2" y2="177" stroke="#3a3a3a" stroke-width="1" />
<line x1="737.7" y1="8.2" x2="737.7" y2="27.4" stroke="#3a3a3a" stroke-width="0.9" />
<line x1="743.9" y1="8.2" x2="743.9" y2="23.4" stroke="#3a3a3a" stroke-width="0.9" />
<path d="M731.8,22.1 a2.3,2.3 0 0 1 0,4.6 Z" fill="#444" stroke="#3a3a3a" stroke-width="0.5" />
<line x1="734" y1="24.4" x2="744.3" y2="24.8" stroke="#3a3a3a" stroke-width="0.9" />
<path d="M738.3,27.4 L738.3,45.98 C738.3,55.78 741,55.78 741,65.58 L741,79" fill="none" stroke="#3a3a3a" stroke-width="0.95" />
<path d="M744.5,27.4 L744.5,45.98 C744.5,55.78 748.4,55.78 748.4,65.58 L748.4,79" fill="none" stroke="#3a3a3a" stroke-width="0.95" />
<rect x="731.6" y="34.4" width="13.7" height="5.6" rx="1" fill="#fff" stroke="#3a3a3a" stroke-width="0.9"/>
<circle cx="737.9" cy="37.2" r="1.9" fill="#444" stroke="#3a3a3a" stroke-width="0.6"/>
<rect x="740.61" y="79" width="8.58" height="3.48" rx="0" fill="#777" stroke="#3a3a3a" stroke-width="0.7"/>
<rect x="739.4" y="82.25" width="11" height="5.34" rx="0.8" fill="#fff" stroke="#3a3a3a" stroke-width="0.9"/>
<line x1="742.98" y1="82.25" x2="742.98" y2="87.58" stroke="#3a3a3a" stroke-width="0.7" />
<line x1="746.82" y1="82.25" x2="746.82" y2="87.58" stroke="#3a3a3a" stroke-width="0.7" />
<rect x="741.05" y="87.58" width="7.7" height="3.02" rx="0" fill="#888" stroke="#3a3a3a" stroke-width="0.8"/>
<g transform="translate(744.8 111.4)" ><rect x="-4.6" y="-20.9" width="9.2" height="10.6" rx="0.6" fill="#fff" stroke="#3a3a3a" stroke-width="0.9"/><line x1="-1.03" y1="-11.3" x2="-1.03" y2="-19.9" stroke="#888" stroke-width="0.6" /><line x1="1.03" y1="-11.3" x2="1.03" y2="-19.9" stroke="#888" stroke-width="0.6" /><rect x="-4.6" y="10.3" width="9.2" height="12.8" rx="0.6" fill="#fff" stroke="#3a3a3a" stroke-width="0.9"/><line x1="-1.03" y1="11.3" x2="-1.03" y2="22.1" stroke="#888" stroke-width="0.6" /><line x1="1.03" y1="11.3" x2="1.03" y2="22.1" stroke="#888" stroke-width="0.6" /><rect x="-4.6" y="20.5" width="9.2" height="2.6" rx="0" fill="#666" stroke="#3a3a3a" stroke-width="0.6"/><rect x="10.3" y="-5" width="9.6" height="10" rx="0.8" fill="#fff" stroke="#3a3a3a" stroke-width="1"/><line x1="17.67" y1="-5" x2="17.67" y2="5" stroke="#3a3a3a" stroke-width="1.1" /><line x1="16.13" y1="-5" x2="16.13" y2="5" stroke="#3a3a3a" stroke-width="1" /><circle cx="0" cy="0" r="10.3" fill="#fff" stroke="#4a4a4a" stroke-width="2"/><circle cx="0" cy="0" r="8.44" fill="none" stroke="#999" stroke-width="0.5"/><text x="0" y="-3.77" font-family='"Liberation Sans","Noto Sans CJK SC",sans-serif' font-size="4.28" fill="#777" text-anchor="middle" >Ex</text><line x1="5.22" y1="2.57" x2="7.27" y2="3.29" stroke="#444" stroke-width="1.07" /><line x1="3.82" y1="3.91" x2="5.52" y2="5.06" stroke="#444" stroke-width="1.07" /><line x1="1.88" y1="4.78" x2="3.11" y2="6.23" stroke="#444" stroke-width="1.07" /><line x1="-0.34" y1="5.09" x2="0.34" y2="6.63" stroke="#444" stroke-width="1.07" /><line x1="-2.57" y1="4.78" x2="-2.43" y2="6.23" stroke="#444" stroke-width="1.07" /><line x1="-4.51" y1="3.91" x2="-4.84" y2="5.06" stroke="#444" stroke-width="1.07" /><line x1="-5.91" y1="2.57" x2="-6.58" y2="3.29" stroke="#444" stroke-width="1.07" /></g>
<path d="M731.8,97.3 l3.8,-1.2 l1.4,3.2 l-2.8,2.8 Z" fill="#3a3a3a" stroke="#3a3a3a" stroke-width="0.6" />
<line x1="728.6" y1="99.3" x2="732.6" y2="99.3" stroke="#555" stroke-width="1" />
<path d="M731.8,125.6 l3.8,1.2 l1.4,-3.2 l-2.8,-2.8 Z" fill="#3a3a3a" stroke="#3a3a3a" stroke-width="0.6" />
<line x1="728.6" y1="123.6" x2="732.6" y2="123.6" stroke="#555" stroke-width="1" />
<line x1="740.6" y1="25.2" x2="807" y2="116.9" stroke="#3a3a3a" stroke-width="0.8" />
<line x1="742" y1="24.2" x2="808.6" y2="116" stroke="#3a3a3a" stroke-width="0.8" />
<path d="M804.0,114.2 L810.2,110.6 M805.6,117.4 L811.8,113.6 M808.0,117.6 L810.4,121.6" fill="none" stroke="#3a3a3a" stroke-width="0.8" />
<g transform="translate(809.9 137.6) rotate(-30)" ><rect x="-2.9" y="-3.4" width="5.8" height="3.4" rx="0" fill="#555" stroke="#3a3a3a" stroke-width="0.6"/></g>
<g transform="translate(809.9 137.6) rotate(-29.5)" ><path d="M-3,0 L-3,4.4 C-3.3,6.4 -5.2,7.8 -6.1,8.6 L-8.2,12.2 L7.6,12.2 L5.4,8.6 C4.6,7.8 3.3,6.4 3,4.4 L3,0 Z" fill="#fff" stroke="#3a3a3a" stroke-width="0.9" /><circle cx="-5.4" cy="6.2" r="0.75" fill="#3a3a3a" stroke="#3a3a3a" stroke-width="0.5"/><g transform="translate(0 1)" ><path d="M-14.2,20.4 L-14.2,15.6 Q-14,12.2 -10.4,11.3 Q0,10.4 9.6,11.3 Q11.4,12 11.4,14.2 L11.4,16.4 L15.6,16.6 Q17.2,16.8 17.2,18.6 L17.2,21 L-14.2,21 Z" fill="#fff" stroke="#3a3a3a" stroke-width="1" /><path d="M-14,15.6 Q-1,14.2 11.4,15.6" fill="none" stroke="#3a3a3a" stroke-width="0.8" /><path d="M-14.1,17.2 Q-1,16.0 11.4,17.2" fill="none" stroke="#444" stroke-width="1.3" /><path d="M-16.2,18.8 L-16.2,30.4 Q-16,33.6 -13.2,34 L13.6,34 Q15.6,33.4 16.0,30.6 L17.2,19.4 Z" fill="#fff" stroke="#3a3a3a" stroke-width="1.1" /><path d="M-16.2,18.8 Q0,17.6 17.2,19.4" fill="none" stroke="#3a3a3a" stroke-width="1" /><path d="M-15.6,21 L-15.6,30.6 Q-15.4,32.6 -13,33 L-8.4,33 L-8.4,21 Z" fill="#8a8a8a" stroke="#3a3a3a" stroke-width="0.6" /><line x1="-13.6" y1="21.6" x2="-13.6" y2="32.6" stroke="#ccc" stroke-width="0.6" /><line x1="-11.2" y1="21.6" x2="-11.2" y2="32.6" stroke="#ccc" stroke-width="0.6" /><rect x="-7" y="21.4" width="2.6" height="9.4" rx="0" fill="#fff" stroke="#3a3a3a" stroke-width="0.6"/><line x1="-2.2" y1="21.6" x2="-2.13" y2="33" stroke="#606060" stroke-width="0.85" /><line x1="0.6" y1="21.6" x2="0.58" y2="33" stroke="#606060" stroke-width="0.85" /><line x1="3.4" y1="21.6" x2="3.3" y2="33" stroke="#606060" stroke-width="0.85" /><line x1="6.2" y1="21.6" x2="6.01" y2="33" stroke="#606060" stroke-width="0.85" /><line x1="9" y1="21.6" x2="8.73" y2="33" stroke="#606060" stroke-width="0.85" /><line x1="11.8" y1="21.6" x2="11.45" y2="33" stroke="#606060" stroke-width="0.85" /><line x1="14.4" y1="21.6" x2="13.97" y2="33" stroke="#606060" stroke-width="0.85" /><path d="M-8.2,20.8 L16.8,21.2" fill="none" stroke="#444" stroke-width="1.1" /><path d="M-15.2,32.8 Q-1,37.2 15.2,32.8" fill="none" stroke="#3a3a3a" stroke-width="1.1" /><path d="M-21.6,35.6 L-21.6,31 Q-20.2,29.6 -18.8,31 L-18.8,34.8 Z" fill="#fff" stroke="#3a3a3a" stroke-width="0.8" /><path d="M16.6,34.8 L16.6,31.4 Q17.9,30.2 19.2,31.4 L19.2,35.8 Z" fill="#fff" stroke="#3a3a3a" stroke-width="0.8" /><g transform="translate(-0.8 0)" ><path d="M-32,45.9 C-31,41 -26.5,37.6 -16.4,35.2 Q0,38.4 16.4,35.2 C26.5,37.6 31,41 32,45.9 L32,50.4 Q31,52.1 29,52.5 L27.4,54 Q0,59.4 -27.4,54 L-29,52.5 Q-31.6,52 -32,50.4 Z" fill="#fff" stroke="#3a3a3a" stroke-width="1.05" /><path d="M-32,45.9 Q-30.6,45.4 -28,46.2 Q0,52 28,46.2 Q30.6,45.4 32,45.9" fill="none" stroke="#3a3a3a" stroke-width="0.9" /><path d="M-31.8,50.15 Q0,56.55 31.8,50.15" fill="none" stroke="#3a3a3a" stroke-width="0.9" /><path d="M-30,51.85 Q0,57.65 30,51.85" fill="none" stroke="#3a3a3a" stroke-width="0.8" /><path d="M-30,45.22 L-30,50.37 L-27.8,50.37 L-27.8,45.22 Z" fill="#fff" stroke="#3a3a3a" stroke-width="0.8" /><path d="M-16.8,47.28 L-16.8,52.43 L-12.6,52.43 L-12.6,47.28 Z" fill="#fff" stroke="#3a3a3a" stroke-width="0.8" /><path d="M8.4,47.63 L8.4,52.78 L12.6,52.78 L12.6,47.63 Z" fill="#fff" stroke="#3a3a3a" stroke-width="0.8" /><path d="M25.4,45.61 L25.4,50.76 L28.2,50.76 L28.2,45.61 Z" fill="#fff" stroke="#3a3a3a" stroke-width="0.8" /><path d="M-14.09,37.98 Q-22.09,41.55 -28.4,46.11" fill="none" stroke="#555" stroke-width="0.65" /><path d="M-13.14,37.73 Q-20.6,41.6 -26.49,46.46" fill="none" stroke="#555" stroke-width="0.65" /><path d="M-11.89,37.5 Q-18.64,41.69 -23.97,46.89" fill="none" stroke="#555" stroke-width="0.65" /><path d="M-10.36,37.3 Q-16.25,41.82 -20.89,47.35" fill="none" stroke="#555" stroke-width="0.65" /><path d="M-8.59,37.12 Q-13.47,41.96 -17.32,47.8" fill="none" stroke="#555" stroke-width="0.65" /><path d="M-6.63,36.99 Q-10.39,42.1 -13.36,48.21" fill="none" stroke="#555" stroke-width="0.65" /><path d="M-4.5,36.88 Q-7.06,42.2 -9.08,48.53" fill="none" stroke="#555" stroke-width="0.65" /><path d="M-2.28,36.82 Q-3.57,42.28 -4.59,48.73" fill="none" stroke="#555" stroke-width="0.65" /><path d="M0,36.8 Q0,42.3 0,48.8" fill="none" stroke="#555" stroke-width="0.65" /><path d="M2.28,36.82 Q3.57,42.28 4.59,48.73" fill="none" stroke="#555" stroke-width="0.65" /><path d="M4.5,36.88 Q7.06,42.2 9.08,48.53" fill="none" stroke="#555" stroke-width="0.65" /><path d="M6.63,36.99 Q10.39,42.1 13.36,48.21" fill="none" stroke="#555" stroke-width="0.65" /><path d="M8.59,37.12 Q13.47,41.96 17.32,47.8" fill="none" stroke="#555" stroke-width="0.65" /><path d="M10.36,37.3 Q16.25,41.82 20.89,47.35" fill="none" stroke="#555" stroke-width="0.65" /><path d="M11.89,37.5 Q18.64,41.69 23.97,46.89" fill="none" stroke="#555" stroke-width="0.65" /><path d="M13.14,37.73 Q20.6,41.6 26.49,46.46" fill="none" stroke="#555" stroke-width="0.65" /><path d="M14.09,37.98 Q22.09,41.55 28.4,46.11" fill="none" stroke="#555" stroke-width="0.65" /><rect x="-16.4" y="55.8" width="2.6" height="1.2" rx="0" fill="#666" stroke="#3a3a3a" stroke-width="0.5"/><rect x="9.6" y="55.8" width="2.6" height="1.2" rx="0" fill="#666" stroke="#3a3a3a" stroke-width="0.5"/></g></g></g>
<line x1="788.8" y1="6.5" x2="742.6" y2="23.6" stroke="#444" stroke-width="0.85" />
<line x1="826.9" y1="34.9" x2="776.5" y2="69.1" stroke="#444" stroke-width="0.85" />
<line x1="827.6" y1="76.7" x2="793.9" y2="111.1" stroke="#444" stroke-width="0.85" />
<line x1="700.9" y1="54.6" x2="741.6" y2="85.6" stroke="#444" stroke-width="0.85" />
<line x1="702.1" y1="86.5" x2="732.3" y2="100" stroke="#444" stroke-width="0.85" />
<line x1="707.9" y1="145.8" x2="733.5" y2="126" stroke="#444" stroke-width="0.85" />
<line x1="867.9" y1="133" x2="842.8" y2="157.4" stroke="#444" stroke-width="0.85" />
<text x="798.1" y="9.16" font-family='"Liberation Sans","Noto Sans CJK SC",sans-serif' font-size="11" fill="#444" text-anchor="middle" stroke="#444" stroke-width="0.3">8</text>
<text x="836.2" y="40.56" font-family='"Liberation Sans","Noto Sans CJK SC",sans-serif' font-size="11" fill="#444" text-anchor="middle" stroke="#444" stroke-width="0.3">7</text>
<text x="838.1" y="79.56" font-family='"Liberation Sans","Noto Sans CJK SC",sans-serif' font-size="11" fill="#444" text-anchor="middle" stroke="#444" stroke-width="0.3">9</text>
<text x="695.6" y="58.56" font-family='"Liberation Sans","Noto Sans CJK SC",sans-serif' font-size="11" fill="#444" text-anchor="middle" stroke="#444" stroke-width="0.3">5</text>
<text x="695.6" y="92.96" font-family='"Liberation Sans","Noto Sans CJK SC",sans-serif' font-size="11" fill="#444" text-anchor="middle" stroke="#444" stroke-width="0.3">4</text>
<text x="700.9" y="153.96" font-family='"Liberation Sans","Noto Sans CJK SC",sans-serif' font-size="11" fill="#444" text-anchor="middle" stroke="#444" stroke-width="0.3">1</text>
<text x="874.1" y="133.96" font-family='"Liberation Sans","Noto Sans CJK SC",sans-serif' font-size="11" fill="#444" text-anchor="middle" stroke="#444" stroke-width="0.3">3</text>
<rect x="507.6" y="512.6" width="7.1" height="148.7" rx="0" fill="#fff" stroke="#3a3a3a" stroke-width="0.9"/>
<path d="M514.6,616 L514.6,287.2 A26,25.7 0 0 1 540.6,261.5 A28.5,25.7 0 0 1 568.48,281.86 L562.59,283.38 A22.4,20 0 0 0 540.6,267.2 A19,20 0 0 0 521.6,287.2 L521.6,616" fill="#fff" stroke="#3a3a3a" stroke-width="0.95" />
<line x1="516" y1="300" x2="516" y2="616" stroke="#999" stroke-width="0.5" />
<rect x="513" y="344.4" width="10" height="12.4" rx="0.8" fill="#fff" stroke="#3a3a3a" stroke-width="0.9"/>
<circle cx="518" cy="348.2" r="0.9" fill="none" stroke="#3a3a3a" stroke-width="0.6"/>
<circle cx="518" cy="353.2" r="0.9" fill="none" stroke="#3a3a3a" stroke-width="0.6"/>
<path d="M523,349 l1.6,0 l0,4 l-1.6,0" fill="none" stroke="#3a3a3a" stroke-width="0.7" />
<path d="M462.5,506.1 L507.6,506.1 M462.5,512.9 L507.6,512.9" fill="none" stroke="#3a3a3a" stroke-width="0.9" />
<circle cx="511.1" cy="509.4" r="3.5" fill="#fff" stroke="#3a3a3a" stroke-width="0.9"/>
<path d="M462.5,593.5 L507.6,593.5 M462.5,600.3 L507.6,600.3" fill="none" stroke="#3a3a3a" stroke-width="0.9" />
<circle cx="511.1" cy="596.8" r="3.5" fill="#fff" stroke="#3a3a3a" stroke-width="0.9"/>
<line x1="512.6" y1="517" x2="523.2" y2="517" stroke="#444" stroke-width="1.3" />
<rect x="511.6" y="515.4" width="3" height="3.2" rx="0" fill="#444" stroke="#3a3a3a" stroke-width="0.5"/>
<line x1="512.6" y1="589.6" x2="523.2" y2="589.6" stroke="#444" stroke-width="1.3" />
<rect x="511.6" y="588" width="3" height="3.2" rx="0" fill="#444" stroke="#3a3a3a" stroke-width="0.5"/>
<rect x="514.6" y="615.4" width="7.6" height="6.2" rx="1.6" fill="#fff" stroke="#444" stroke-width="1.3"/>
<line x1="514.8" y1="617" x2="522" y2="617" stroke="#444" stroke-width="1.2" />
<line x1="514.8" y1="619.6" x2="522" y2="619.6" stroke="#3a3a3a" stroke-width="1" />
<rect x="515.4" y="621.6" width="8.2" height="20" rx="0.8" fill="#fff" stroke="#3a3a3a" stroke-width="0.9"/>
<circle cx="518.4" cy="632.6" r="2.3" fill="none" stroke="#3a3a3a" stroke-width="0.9"/>
<ellipse cx="518.4" cy="625.2" rx="2.2" ry="1.4" fill="none" stroke="#3a3a3a" stroke-width="0.8"/>
<path d="M523.6,627 l1.4,1 l0,7 l-1.4,1" fill="none" stroke="#3a3a3a" stroke-width="0.8" />
<line x1="463.7" y1="661.3" x2="555.7" y2="661.3" stroke="#3a3a3a" stroke-width="1.1" />
<line x1="468.5" y1="661.3" x2="464.5" y2="666.5" stroke="#3a3a3a" stroke-width="1" />
<line x1="473" y1="661.3" x2="469" y2="666.5" stroke="#3a3a3a" stroke-width="1" />
<line x1="477.5" y1="661.3" x2="473.5" y2="666.5" stroke="#3a3a3a" stroke-width="1" />
<line x1="482" y1="661.3" x2="478" y2="666.5" stroke="#3a3a3a" stroke-width="1" />
<line x1="486.5" y1="661.3" x2="482.5" y2="666.5" stroke="#3a3a3a" stroke-width="1" />
<line x1="491" y1="661.3" x2="487" y2="666.5" stroke="#3a3a3a" stroke-width="1" />
<line x1="495.5" y1="661.3" x2="491.5" y2="666.5" stroke="#3a3a3a" stroke-width="1" />
<line x1="500" y1="661.3" x2="496" y2="666.5" stroke="#3a3a3a" stroke-width="1" />
<line x1="504.5" y1="661.3" x2="500.5" y2="666.5" stroke="#3a3a3a" stroke-width="1" />
<line x1="509" y1="661.3" x2="505" y2="666.5" stroke="#3a3a3a" stroke-width="1" />
<line x1="513.5" y1="661.3" x2="509.5" y2="666.5" stroke="#3a3a3a" stroke-width="1" />
<line x1="518" y1="661.3" x2="514" y2="666.5" stroke="#3a3a3a" stroke-width="1" />
<line x1="522.5" y1="661.3" x2="518.5" y2="666.5" stroke="#3a3a3a" stroke-width="1" />
<line x1="527" y1="661.3" x2="523" y2="666.5" stroke="#3a3a3a" stroke-width="1" />
<line x1="531.5" y1="661.3" x2="527.5" y2="666.5" stroke="#3a3a3a" stroke-width="1" />
<line x1="536" y1="661.3" x2="532" y2="666.5" stroke="#3a3a3a" stroke-width="1" />
<line x1="540.5" y1="661.3" x2="536.5" y2="666.5" stroke="#3a3a3a" stroke-width="1" />
<line x1="545" y1="661.3" x2="541" y2="666.5" stroke="#3a3a3a" stroke-width="1" />
<line x1="549.5" y1="661.3" x2="545.5" y2="666.5" stroke="#3a3a3a" stroke-width="1" />
<g transform="translate(567.8 285.2) rotate(-16)" ><ellipse cx="0" cy="0" rx="7.8" ry="2.7" fill="#fff" stroke="#3a3a3a" stroke-width="0.9"/><g transform="rotate(-12)" ><rect x="-2.4" y="0.2" width="4.8" height="3.2" rx="0" fill="#444" stroke="#3a3a3a" stroke-width="0.5"/></g></g>
<g transform="translate(568.7 288) rotate(-28.9)" ><path d="M-3,0 L-3,4.4 C-3.3,6.4 -5.2,7.8 -6.1,8.6 L-8.2,12.2 L7.6,12.2 L5.4,8.6 C4.6,7.8 3.3,6.4 3,4.4 L3,0 Z" fill="#fff" stroke="#3a3a3a" stroke-width="0.9" /><circle cx="-5.4" cy="6.2" r="0.75" fill="#3a3a3a" stroke="#3a3a3a" stroke-width="0.5"/><g transform="translate(0 1)" ><path d="M-14.2,20.4 L-14.2,15.6 Q-14,12.2 -10.4,11.3 Q0,10.4 9.6,11.3 Q11.4,12 11.4,14.2 L11.4,16.4 L15.6,16.6 Q17.2,16.8 17.2,18.6 L17.2,21 L-14.2,21 Z" fill="#fff" stroke="#3a3a3a" stroke-width="1" /><path d="M-14,15.6 Q-1,14.2 11.4,15.6" fill="none" stroke="#3a3a3a" stroke-width="0.8" /><path d="M-14.1,17.2 Q-1,16.0 11.4,17.2" fill="none" stroke="#444" stroke-width="1.3" /><path d="M-16.2,18.8 L-16.2,30.4 Q-16,33.6 -13.2,34 L13.6,34 Q15.6,33.4 16.0,30.6 L17.2,19.4 Z" fill="#fff" stroke="#3a3a3a" stroke-width="1.1" /><path d="M-16.2,18.8 Q0,17.6 17.2,19.4" fill="none" stroke="#3a3a3a" stroke-width="1" /><path d="M-15.6,21 L-15.6,30.6 Q-15.4,32.6 -13,33 L-8.4,33 L-8.4,21 Z" fill="#8a8a8a" stroke="#3a3a3a" stroke-width="0.6" /><line x1="-13.6" y1="21.6" x2="-13.6" y2="32.6" stroke="#ccc" stroke-width="0.6" /><line x1="-11.2" y1="21.6" x2="-11.2" y2="32.6" stroke="#ccc" stroke-width="0.6" /><rect x="-7" y="21.4" width="2.6" height="9.4" rx="0" fill="#fff" stroke="#3a3a3a" stroke-width="0.6"/><line x1="-2.2" y1="21.6" x2="-2.13" y2="33" stroke="#606060" stroke-width="0.85" /><line x1="0.6" y1="21.6" x2="0.58" y2="33" stroke="#606060" stroke-width="0.85" /><line x1="3.4" y1="21.6" x2="3.3" y2="33" stroke="#606060" stroke-width="0.85" /><line x1="6.2" y1="21.6" x2="6.01" y2="33" stroke="#606060" stroke-width="0.85" /><line x1="9" y1="21.6" x2="8.73" y2="33" stroke="#606060" stroke-width="0.85" /><line x1="11.8" y1="21.6" x2="11.45" y2="33" stroke="#606060" stroke-width="0.85" /><line x1="14.4" y1="21.6" x2="13.97" y2="33" stroke="#606060" stroke-width="0.85" /><path d="M-8.2,20.8 L16.8,21.2" fill="none" stroke="#444" stroke-width="1.1" /><path d="M-15.2,32.8 Q-1,37.2 15.2,32.8" fill="none" stroke="#3a3a3a" stroke-width="1.1" /><path d="M-21.6,35.6 L-21.6,31 Q-20.2,29.6 -18.8,31 L-18.8,34.8 Z" fill="#fff" stroke="#3a3a3a" stroke-width="0.8" /><path d="M16.6,34.8 L16.6,31.4 Q17.9,30.2 19.2,31.4 L19.2,35.8 Z" fill="#fff" stroke="#3a3a3a" stroke-width="0.8" /><g transform="translate(-0.8 0)" ><path d="M-32,45.9 C-31,41 -26.5,37.6 -16.4,35.2 Q0,38.4 16.4,35.2 C26.5,37.6 31,41 32,45.9 L32,50.4 Q31,52.1 29,52.5 L27.4,54 Q0,59.4 -27.4,54 L-29,52.5 Q-31.6,52 -32,50.4 Z" fill="#fff" stroke="#3a3a3a" stroke-width="1.05" /><path d="M-32,45.9 Q-30.6,45.4 -28,46.2 Q0,52 28,46.2 Q30.6,45.4 32,45.9" fill="none" stroke="#3a3a3a" stroke-width="0.9" /><path d="M-31.8,50.15 Q0,56.55 31.8,50.15" fill="none" stroke="#3a3a3a" stroke-width="0.9" /><path d="M-30,51.85 Q0,57.65 30,51.85" fill="none" stroke="#3a3a3a" stroke-width="0.8" /><path d="M-30,45.22 L-30,50.37 L-27.8,50.37 L-27.8,45.22 Z" fill="#fff" stroke="#3a3a3a" stroke-width="0.8" /><path d="M-16.8,47.28 L-16.8,52.43 L-12.6,52.43 L-12.6,47.28 Z" fill="#fff" stroke="#3a3a3a" stroke-width="0.8" /><path d="M8.4,47.63 L8.4,52.78 L12.6,52.78 L12.6,47.63 Z" fill="#fff" stroke="#3a3a3a" stroke-width="0.8" /><path d="M25.4,45.61 L25.4,50.76 L28.2,50.76 L28.2,45.61 Z" fill="#fff" stroke="#3a3a3a" stroke-width="0.8" /><path d="M-14.09,37.98 Q-22.09,41.55 -28.4,46.11" fill="none" stroke="#555" stroke-width="0.65" /><path d="M-13.14,37.73 Q-20.6,41.6 -26.49,46.46" fill="none" stroke="#555" stroke-width="0.65" /><path d="M-11.89,37.5 Q-18.64,41.69 -23.97,46.89" fill="none" stroke="#555" stroke-width="0.65" /><path d="M-10.36,37.3 Q-16.25,41.82 -20.89,47.35" fill="none" stroke="#555" stroke-width="0.65" /><path d="M-8.59,37.12 Q-13.47,41.96 -17.32,47.8" fill="none" stroke="#555" stroke-width="0.65" /><path d="M-6.63,36.99 Q-10.39,42.1 -13.36,48.21" fill="none" stroke="#555" stroke-width="0.65" /><path d="M-4.5,36.88 Q-7.06,42.2 -9.08,48.53" fill="none" stroke="#555" stroke-width="0.65" /><path d="M-2.28,36.82 Q-3.57,42.28 -4.59,48.73" fill="none" stroke="#555" stroke-width="0.65" /><path d="M0,36.8 Q0,42.3 0,48.8" fill="none" stroke="#555" stroke-width="0.65" /><path d="M2.28,36.82 Q3.57,42.28 4.59,48.73" fill="none" stroke="#555" stroke-width="0.65" /><path d="M4.5,36.88 Q7.06,42.2 9.08,48.53" fill="none" stroke="#555" stroke-width="0.65" /><path d="M6.63,36.99 Q10.39,42.1 13.36,48.21" fill="none" stroke="#555" stroke-width="0.65" /><path d="M8.59,37.12 Q13.47,41.96 17.32,47.8" fill="none" stroke="#555" stroke-width="0.65" /><path d="M10.36,37.3 Q16.25,41.82 20.89,47.35" fill="none" stroke="#555" stroke-width="0.65" /><path d="M11.89,37.5 Q18.64,41.69 23.97,46.89" fill="none" stroke="#555" stroke-width="0.65" /><path d="M13.14,37.73 Q20.6,41.6 26.49,46.46" fill="none" stroke="#555" stroke-width="0.65" /><path d="M14.09,37.98 Q22.09,41.55 28.4,46.11" fill="none" stroke="#555" stroke-width="0.65" /><rect x="-16.4" y="55.8" width="2.6" height="1.2" rx="0" fill="#666" stroke="#3a3a3a" stroke-width="0.5"/><rect x="9.6" y="55.8" width="2.6" height="1.2" rx="0" fill="#666" stroke="#3a3a3a" stroke-width="0.5"/></g></g></g>
<line x1="479.1" y1="331.3" x2="514.7" y2="314" stroke="#444" stroke-width="0.85" />
<line x1="563.2" y1="367.3" x2="571.5" y2="340.1" stroke="#444" stroke-width="0.85" />
<line x1="562.1" y1="395.1" x2="521.8" y2="408.3" stroke="#444" stroke-width="0.85" />
<line x1="461.3" y1="473" x2="487.4" y2="509.5" stroke="#444" stroke-width="0.85" />
<line x1="568" y1="489.4" x2="521.8" y2="516.6" stroke="#444" stroke-width="0.85" />
<line x1="450.7" y1="551.6" x2="508.7" y2="591.8" stroke="#444" stroke-width="0.85" />
<line x1="559.7" y1="588.3" x2="521.8" y2="619.1" stroke="#444" stroke-width="0.85" />
<line x1="559.7" y1="628.6" x2="523" y2="635.2" stroke="#444" stroke-width="0.85" />
<text x="470.1" y="338.38" font-family='"Liberation Sans","Noto Sans CJK SC",sans-serif' font-size="10.5" fill="#444" text-anchor="middle" letter-spacing="0.5" stroke="#444" stroke-width="0.3">12</text>
<text x="560.2" y="375.88" font-family='"Liberation Sans","Noto Sans CJK SC",sans-serif' font-size="10.5" fill="#444" text-anchor="middle" stroke="#444" stroke-width="0.3">3</text>
<text x="572.7" y="395.98" font-family='"Liberation Sans","Noto Sans CJK SC",sans-serif' font-size="10.5" fill="#444" text-anchor="middle" letter-spacing="0.5" stroke="#444" stroke-width="0.3">10</text>
<text x="459" y="464.18" font-family='"Liberation Sans","Noto Sans CJK SC",sans-serif' font-size="10.5" fill="#444" text-anchor="middle" letter-spacing="0.5" stroke="#444" stroke-width="0.3">14</text>
<text x="575.8" y="486.78" font-family='"Liberation Sans","Noto Sans CJK SC",sans-serif' font-size="10.5" fill="#444" text-anchor="middle" letter-spacing="0.5" stroke="#444" stroke-width="0.3">11</text>
<text x="449" y="541.98" font-family='"Liberation Sans","Noto Sans CJK SC",sans-serif' font-size="10.5" fill="#444" text-anchor="middle" letter-spacing="0.5" stroke="#444" stroke-width="0.3">15</text>
<text x="575.1" y="586.18" font-family='"Liberation Sans","Noto Sans CJK SC",sans-serif' font-size="10.5" fill="#444" text-anchor="middle" letter-spacing="0.5" stroke="#444" stroke-width="0.3">16</text>
<text x="569.2" y="633.98" font-family='"Liberation Sans","Noto Sans CJK SC",sans-serif' font-size="10.5" fill="#444" text-anchor="middle" stroke="#444" stroke-width="0.3">4</text>
<line x1="718.9" y1="273.8" x2="772" y2="273.8" stroke="#3a3a3a" stroke-width="1" />
<line x1="727.3" y1="280" x2="727.3" y2="668" stroke="#3a3a3a" stroke-width="0.9" />
<path d="M727.3,276 L724.4,288.4 L730.2,288.4 Z" fill="#333" stroke="#3a3a3a" stroke-width="0.4" />
<path d="M727.3,671.6 L724.4,660.4 L730.2,660.4 Z" fill="#333" stroke="#3a3a3a" stroke-width="0.4" />
<text x="0" y="0" font-family='"Liberation Sans","Noto Sans CJK SC",sans-serif' font-size="11" fill="#4a4a4a" text-anchor="middle" textLength="63.5" lengthAdjust="spacingAndGlyphs" transform="translate(725.2 464.4) rotate(-90)">2500 - 3000</text>
<path d="M749.2,669.6 L762,656.8 L769.6,656.8 L782.7,669.6 Z" fill="#fff" stroke="#3a3a3a" stroke-width="0.8" />
<rect x="749.2" y="669.4" width="33.5" height="2.4" rx="0" fill="#fff" stroke="#3a3a3a" stroke-width="0.7"/>
<path d="M763.4,374.5 L763.4,298.6 A27.2,23.5 0 0 1 790.6,275.1 A28.4,23.5 0 0 1 818.79,295.74 L814.84,297.33 A24.3,18.2 0 0 0 790.6,280.4 A22,18.2 0 0 0 768.6,298.6 L768.6,374.5" fill="#fff" stroke="#3a3a3a" stroke-width="0.95" />
<rect x="762" y="385" width="7.6" height="285.4" rx="0" fill="#fff" stroke="#3a3a3a" stroke-width="0.95"/>
<line x1="763.8" y1="386" x2="763.8" y2="669" stroke="#999" stroke-width="0.5" />
<rect x="764.6" y="656.6" width="3.6" height="12.6" rx="0" fill="#bbb" stroke="#3a3a3a" stroke-width="0.6"/>
<circle cx="761.9" cy="652.6" r="2.4" fill="#fff" stroke="#3a3a3a" stroke-width="0.8"/>
<rect x="761.2" y="374" width="9.2" height="11.2" rx="0.8" fill="#fff" stroke="#3a3a3a" stroke-width="0.9"/>
<circle cx="766" cy="378.6" r="0.8" fill="none" stroke="#3a3a3a" stroke-width="0.6"/>
<path d="M770.4,377.4 l1.4,0 l0,4 l-1.4,0" fill="none" stroke="#3a3a3a" stroke-width="0.7" />
<line x1="726.6" y1="671.9" x2="822.2" y2="671.9" stroke="#3a3a3a" stroke-width="1.1" />
<line x1="731.5" y1="671.9" x2="727.7" y2="676.9" stroke="#3a3a3a" stroke-width="1" />
<line x1="736.81" y1="671.9" x2="733.01" y2="676.9" stroke="#3a3a3a" stroke-width="1" />
<line x1="742.12" y1="671.9" x2="738.33" y2="676.9" stroke="#3a3a3a" stroke-width="1" />
<line x1="747.44" y1="671.9" x2="743.64" y2="676.9" stroke="#3a3a3a" stroke-width="1" />
<line x1="752.75" y1="671.9" x2="748.95" y2="676.9" stroke="#3a3a3a" stroke-width="1" />
<line x1="758.06" y1="671.9" x2="754.26" y2="676.9" stroke="#3a3a3a" stroke-width="1" />
<line x1="763.38" y1="671.9" x2="759.58" y2="676.9" stroke="#3a3a3a" stroke-width="1" />
<line x1="768.69" y1="671.9" x2="764.89" y2="676.9" stroke="#3a3a3a" stroke-width="1" />
<line x1="774" y1="671.9" x2="770.2" y2="676.9" stroke="#3a3a3a" stroke-width="1" />
<line x1="779.31" y1="671.9" x2="775.51" y2="676.9" stroke="#3a3a3a" stroke-width="1" />
<line x1="784.62" y1="671.9" x2="780.83" y2="676.9" stroke="#3a3a3a" stroke-width="1" />
<line x1="789.94" y1="671.9" x2="786.14" y2="676.9" stroke="#3a3a3a" stroke-width="1" />
<line x1="795.25" y1="671.9" x2="791.45" y2="676.9" stroke="#3a3a3a" stroke-width="1" />
<line x1="800.56" y1="671.9" x2="796.76" y2="676.9" stroke="#3a3a3a" stroke-width="1" />
<line x1="805.88" y1="671.9" x2="802.08" y2="676.9" stroke="#3a3a3a" stroke-width="1" />
<line x1="811.19" y1="671.9" x2="807.39" y2="676.9" stroke="#3a3a3a" stroke-width="1" />
<line x1="816.5" y1="671.9" x2="812.7" y2="676.9" stroke="#3a3a3a" stroke-width="1" />
<g transform="translate(818.2 299.8) rotate(-16)" ><ellipse cx="0" cy="0" rx="7.8" ry="2.7" fill="#fff" stroke="#3a3a3a" stroke-width="0.9"/><g transform="rotate(-12)" ><rect x="-2.4" y="0.2" width="4.8" height="3.2" rx="0" fill="#444" stroke="#3a3a3a" stroke-width="0.5"/></g></g>
<g transform="translate(819.2 302.8) rotate(-28.2)" ><path d="M-3,0 L-3,4.24 C-3.3,6.24 -5.2,7.48 -6.1,8.28 L-8.2,11.8 L7.6,11.8 L5.4,8.28 C4.6,7.48 3.3,6.24 3,4.24 L3,0 Z" fill="#fff" stroke="#3a3a3a" stroke-width="0.9" /><circle cx="-5.4" cy="6.04" r="0.75" fill="#3a3a3a" stroke="#3a3a3a" stroke-width="0.5"/><g transform="translate(0 0.6)" ><path d="M-14.2,20.4 L-14.2,15.6 Q-14,12.2 -10.4,11.3 Q0,10.4 9.6,11.3 Q11.4,12 11.4,14.2 L11.4,16.4 L15.6,16.6 Q17.2,16.8 17.2,18.6 L17.2,21 L-14.2,21 Z" fill="#fff" stroke="#3a3a3a" stroke-width="1" /><path d="M-14,15.6 Q-1,14.2 11.4,15.6" fill="none" stroke="#3a3a3a" stroke-width="0.8" /><path d="M-14.1,17.2 Q-1,16.0 11.4,17.2" fill="none" stroke="#444" stroke-width="1.3" /><path d="M-16.2,18.8 L-16.2,30.4 Q-16,33.6 -13.2,34 L13.6,34 Q15.6,33.4 16.0,30.6 L17.2,19.4 Z" fill="#fff" stroke="#3a3a3a" stroke-width="1.1" /><path d="M-16.2,18.8 Q0,17.6 17.2,19.4" fill="none" stroke="#3a3a3a" stroke-width="1" /><path d="M-15.6,21 L-15.6,30.6 Q-15.4,32.6 -13,33 L-8.4,33 L-8.4,21 Z" fill="#8a8a8a" stroke="#3a3a3a" stroke-width="0.6" /><line x1="-13.6" y1="21.6" x2="-13.6" y2="32.6" stroke="#ccc" stroke-width="0.6" /><line x1="-11.2" y1="21.6" x2="-11.2" y2="32.6" stroke="#ccc" stroke-width="0.6" /><rect x="-7" y="21.4" width="2.6" height="9.4" rx="0" fill="#fff" stroke="#3a3a3a" stroke-width="0.6"/><line x1="-2.2" y1="21.6" x2="-2.13" y2="33" stroke="#606060" stroke-width="0.85" /><line x1="0.6" y1="21.6" x2="0.58" y2="33" stroke="#606060" stroke-width="0.85" /><line x1="3.4" y1="21.6" x2="3.3" y2="33" stroke="#606060" stroke-width="0.85" /><line x1="6.2" y1="21.6" x2="6.01" y2="33" stroke="#606060" stroke-width="0.85" /><line x1="9" y1="21.6" x2="8.73" y2="33" stroke="#606060" stroke-width="0.85" /><line x1="11.8" y1="21.6" x2="11.45" y2="33" stroke="#606060" stroke-width="0.85" /><line x1="14.4" y1="21.6" x2="13.97" y2="33" stroke="#606060" stroke-width="0.85" /><path d="M-8.2,20.8 L16.8,21.2" fill="none" stroke="#444" stroke-width="1.1" /><path d="M-15.2,32.8 Q-1,37.2 15.2,32.8" fill="none" stroke="#3a3a3a" stroke-width="1.1" /><path d="M-21.6,35.6 L-21.6,31 Q-20.2,29.6 -18.8,31 L-18.8,34.8 Z" fill="#fff" stroke="#3a3a3a" stroke-width="0.8" /><path d="M16.6,34.8 L16.6,31.4 Q17.9,30.2 19.2,31.4 L19.2,35.8 Z" fill="#fff" stroke="#3a3a3a" stroke-width="0.8" /><g transform="translate(-0.8 0)" ><path d="M-32,45.9 C-31,41 -26.5,37.6 -16.4,35.2 Q0,38.4 16.4,35.2 C26.5,37.6 31,41 32,45.9 L32,50.4 Q31,52.1 29,52.5 L27.4,54 Q0,59.4 -27.4,54 L-29,52.5 Q-31.6,52 -32,50.4 Z" fill="#fff" stroke="#3a3a3a" stroke-width="1.05" /><path d="M-32,45.9 Q-30.6,45.4 -28,46.2 Q0,52 28,46.2 Q30.6,45.4 32,45.9" fill="none" stroke="#3a3a3a" stroke-width="0.9" /><path d="M-31.8,50.15 Q0,56.55 31.8,50.15" fill="none" stroke="#3a3a3a" stroke-width="0.9" /><path d="M-30,51.85 Q0,57.65 30,51.85" fill="none" stroke="#3a3a3a" stroke-width="0.8" /><path d="M-30,45.22 L-30,50.37 L-27.8,50.37 L-27.8,45.22 Z" fill="#fff" stroke="#3a3a3a" stroke-width="0.8" /><path d="M-16.8,47.28 L-16.8,52.43 L-12.6,52.43 L-12.6,47.28 Z" fill="#fff" stroke="#3a3a3a" stroke-width="0.8" /><path d="M8.4,47.63 L8.4,52.78 L12.6,52.78 L12.6,47.63 Z" fill="#fff" stroke="#3a3a3a" stroke-width="0.8" /><path d="M25.4,45.61 L25.4,50.76 L28.2,50.76 L28.2,45.61 Z" fill="#fff" stroke="#3a3a3a" stroke-width="0.8" /><path d="M-14.09,37.98 Q-22.09,41.55 -28.4,46.11" fill="none" stroke="#555" stroke-width="0.65" /><path d="M-13.14,37.73 Q-20.6,41.6 -26.49,46.46" fill="none" stroke="#555" stroke-width="0.65" /><path d="M-11.89,37.5 Q-18.64,41.69 -23.97,46.89" fill="none" stroke="#555" stroke-width="0.65" /><path d="M-10.36,37.3 Q-16.25,41.82 -20.89,47.35" fill="none" stroke="#555" stroke-width="0.65" /><path d="M-8.59,37.12 Q-13.47,41.96 -17.32,47.8" fill="none" stroke="#555" stroke-width="0.65" /><path d="M-6.63,36.99 Q-10.39,42.1 -13.36,48.21" fill="none" stroke="#555" stroke-width="0.65" /><path d="M-4.5,36.88 Q-7.06,42.2 -9.08,48.53" fill="none" stroke="#555" stroke-width="0.65" /><path d="M-2.28,36.82 Q-3.57,42.28 -4.59,48.73" fill="none" stroke="#555" stroke-width="0.65" /><path d="M0,36.8 Q0,42.3 0,48.8" fill="none" stroke="#555" stroke-width="0.65" /><path d="M2.28,36.82 Q3.57,42.28 4.59,48.73" fill="none" stroke="#555" stroke-width="0.65" /><path d="M4.5,36.88 Q7.06,42.2 9.08,48.53" fill="none" stroke="#555" stroke-width="0.65" /><path d="M6.63,36.99 Q10.39,42.1 13.36,48.21" fill="none" stroke="#555" stroke-width="0.65" /><path d="M8.59,37.12 Q13.47,41.96 17.32,47.8" fill="none" stroke="#555" stroke-width="0.65" /><path d="M10.36,37.3 Q16.25,41.82 20.89,47.35" fill="none" stroke="#555" stroke-width="0.65" /><path d="M11.89,37.5 Q18.64,41.69 23.97,46.89" fill="none" stroke="#555" stroke-width="0.65" /><path d="M13.14,37.73 Q20.6,41.6 26.49,46.46" fill="none" stroke="#555" stroke-width="0.65" /><path d="M14.09,37.98 Q22.09,41.55 28.4,46.11" fill="none" stroke="#555" stroke-width="0.65" /><rect x="-16.4" y="55.8" width="2.6" height="1.2" rx="0" fill="#666" stroke="#3a3a3a" stroke-width="0.5"/><rect x="9.6" y="55.8" width="2.6" height="1.2" rx="0" fill="#666" stroke="#3a3a3a" stroke-width="0.5"/></g></g></g>
<rect x="842.6" y="601.6" width="38.2" height="37.5" rx="0" fill="#fff" stroke="#3a3a3a" stroke-width="0.9"/>
<rect x="821.8" y="601.6" width="20.8" height="37.5" rx="0" fill="none" stroke="#3a3a3a" stroke-width="0.8"/>
<path d="M847.8,606.3 L835.8,606.3 L835.8,634.6 L847.8,634.6" fill="none" stroke="#3a3a3a" stroke-width="0.8" />
<path d="M842.6,601.6 L842.6,582.2 M880.8,601.6 L880.8,582.2 M842.6,583.2 L880.8,583.2" fill="none" stroke="#3a3a3a" stroke-width="0.8" />
<path d="M847.8,606.3 L847.8,592.6 L876.0,592.6 L876.0,606.3" fill="none" stroke="#3a3a3a" stroke-width="0.8" />
<rect x="842.6" y="619" width="38.2" height="2.8" rx="0" fill="#aaa" stroke="#3a3a3a" stroke-width="0.6"/>
<rect x="860.4" y="601.6" width="2.8" height="37.5" rx="0" fill="#aaa" stroke="#3a3a3a" stroke-width="0.6"/>
<circle cx="847.8" cy="606.3" r="2" fill="#fff" stroke="#3a3a3a" stroke-width="0.7"/>
<circle cx="847.8" cy="634.6" r="2" fill="#fff" stroke="#3a3a3a" stroke-width="0.7"/>
<circle cx="876.4" cy="606.3" r="2" fill="#fff" stroke="#3a3a3a" stroke-width="0.7"/>
<circle cx="876.4" cy="634.6" r="2" fill="#fff" stroke="#3a3a3a" stroke-width="0.7"/>
<circle cx="861.8" cy="620.4" r="5.6" fill="#fff" stroke="#3a3a3a" stroke-width="1.6"/>
<circle cx="861.8" cy="620.4" r="3" fill="#fff" stroke="#3a3a3a" stroke-width="0.8"/>
<rect x="853.6" y="626" width="3" height="3" rx="0" fill="#888" stroke="#3a3a3a" stroke-width="0.6"/>
<path d="M831.3,654.6 L864.4,654.6 L876.0,636.2" fill="none" stroke="#3a3a3a" stroke-width="0.8" />
<text x="861.8" y="582.2" font-family='"Liberation Sans","Noto Sans CJK SC",sans-serif' font-size="10.5" fill="#4a4a4a" text-anchor="middle" textLength="19.5" lengthAdjust="spacingAndGlyphs" >200</text>
<text x="861.6" y="591.9" font-family='"Liberation Sans","Noto Sans CJK SC",sans-serif' font-size="10.5" fill="#4a4a4a" text-anchor="middle" textLength="19" lengthAdjust="spacingAndGlyphs" >150</text>
<text x="0" y="0" font-family='"Liberation Sans","Noto Sans CJK SC",sans-serif' font-size="10.5" fill="#4a4a4a" text-anchor="middle" textLength="19.5" lengthAdjust="spacingAndGlyphs" transform="translate(822.6 620) rotate(-90)">200</text>
<text x="0" y="0" font-family='"Liberation Sans","Noto Sans CJK SC",sans-serif' font-size="10.5" fill="#4a4a4a" text-anchor="middle" textLength="19" lengthAdjust="spacingAndGlyphs" transform="translate(834 620.4) rotate(-90)">150</text>
<text x="825" y="654" font-family='"Liberation Sans","Noto Sans CJK SC",sans-serif' font-size="10.5" fill="#4a4a4a" textLength="37" lengthAdjust="spacingAndGlyphs" >4-Φ20</text>
<line x1="743.1" y1="320.1" x2="763.5" y2="329.1" stroke="#444" stroke-width="0.85" />
<line x1="812.1" y1="368.7" x2="815.6" y2="360" stroke="#444" stroke-width="0.85" />
<line x1="809.1" y1="489.7" x2="769.1" y2="520.9" stroke="#444" stroke-width="0.85" />
<text x="737.5" y="320.88" font-family='"Liberation Sans","Noto Sans CJK SC",sans-serif' font-size="10.5" fill="#444" text-anchor="middle" letter-spacing="0.5" stroke="#444" stroke-width="0.3">12</text>
<text x="809.8" y="377.68" font-family='"Liberation Sans","Noto Sans CJK SC",sans-serif' font-size="10.5" fill="#444" text-anchor="middle" stroke="#444" stroke-width="0.3">3</text>
<text x="816.6" y="489.68" font-family='"Liberation Sans","Noto Sans CJK SC",sans-serif' font-size="10.5" fill="#444" text-anchor="middle" letter-spacing="0.5" stroke="#444" stroke-width="0.3">13</text>
<text x="99.8" y="207.4" font-family='"Liberation Sans","Noto Sans CJK SC",sans-serif' font-size="12.5" fill="#666" textLength="12.4" lengthAdjust="spacingAndGlyphs" >A.</text>
<text transform="translate(113.4 208) scale(1 1)" font-family='"Liberation Sans","Noto Sans CJK SC",sans-serif' font-size="13.5" fill="#5a5a5a" textLength="43.4" lengthAdjust="spacing" >吸顶式</text>
<text transform="translate(166 207.4) scale(0.9 1)" font-family='"Liberation Serif","Noto Serif CJK SC",serif' font-size="14" fill="#444" textLength="83.78" lengthAdjust="spacing" >Ceiling type</text>
<text x="302.6" y="209" font-family='"Liberation Sans","Noto Sans CJK SC",sans-serif' font-size="12.5" fill="#666" textLength="20" lengthAdjust="spacingAndGlyphs" >B1.</text>
<text transform="translate(324.4 209.6) scale(1 1)" font-family='"Liberation Sans","Noto Sans CJK SC",sans-serif' font-size="13.5" fill="#5a5a5a" textLength="43.8" lengthAdjust="spacing" >管吊式</text>
<text transform="translate(375.8 209) scale(0.9 1)" font-family='"Liberation Serif","Noto Serif CJK SC",serif' font-size="14" fill="#444" textLength="89.11" lengthAdjust="spacing" >Pendant type</text>
<text x="499.7" y="239.6" font-family='"Liberation Sans","Noto Sans CJK SC",sans-serif' font-size="13.5" fill="#222" textLength="19.3" lengthAdjust="spacingAndGlyphs" font-style="italic" stroke="#222" stroke-width="0.25">C1.</text>
<text transform="translate(521.1 240.2) scale(0.92 1)" font-family='"Liberation Sans","Noto Sans CJK SC",sans-serif' font-size="13" fill="#222" textLength="27.93" lengthAdjust="spacing" font-weight="500" >壁式</text>
<text x="547.9" y="239.6" font-family='"Liberation Sans","Noto Sans CJK SC",sans-serif' font-size="13.5" fill="#222" textLength="18.2" lengthAdjust="spacingAndGlyphs" font-style="italic" stroke="#222" stroke-width="0.25">90°</text>
<text x="582.6" y="239.6" font-family='"Liberation Serif","Noto Serif CJK SC",serif' font-size="15" fill="#222" textLength="80.7" lengthAdjust="spacingAndGlyphs" letter-spacing="0.3" >Wall type 90°</text>
<text x="708.4" y="234.9" font-family='"Liberation Sans","Noto Sans CJK SC",sans-serif' font-size="13.5" fill="#222" textLength="19.9" lengthAdjust="spacingAndGlyphs" font-style="italic" stroke="#222" stroke-width="0.25">C2.</text>
<text transform="translate(730 235.5) scale(0.92 1)" font-family='"Liberation Sans","Noto Sans CJK SC",sans-serif' font-size="13" fill="#222" textLength="27.17" lengthAdjust="spacing" font-weight="500" >壁式</text>
<text x="756.3" y="234.9" font-family='"Liberation Sans","Noto Sans CJK SC",sans-serif' font-size="13.5" fill="#222" textLength="18.2" lengthAdjust="spacingAndGlyphs" font-style="italic" stroke="#222" stroke-width="0.25">30°</text>
<text x="791.3" y="234.9" font-family='"Liberation Serif","Noto Serif CJK SC",serif' font-size="15" fill="#222" textLength="80.4" lengthAdjust="spacingAndGlyphs" letter-spacing="0.3" >Wall type 30°</text>
<text transform="translate(451.9 699.2) scale(0.85 1)" font-family='"Liberation Sans","Noto Sans CJK SC",sans-serif' font-size="13.5" fill="#222" textLength="14.82" lengthAdjust="spacing" font-weight="bold" >D.</text>
<text transform="translate(466.6 699.8) scale(0.72 1)" font-family='"Liberation Sans","Noto Sans CJK SC",sans-serif' font-size="13.5" fill="#222" textLength="97.22" lengthAdjust="spacing" font-weight="900" >护栏立杆式</text>
<text x="546.7" y="699.4" font-family='"Liberation Serif","Noto Serif CJK SC",serif' font-size="15" fill="#222" textLength="65.6" lengthAdjust="spacingAndGlyphs" letter-spacing="0.3" >Fence type</text>
<text transform="translate(721.6 704.6) scale(0.85 1)" font-family='"Liberation Sans","Noto Sans CJK SC",sans-serif' font-size="13.5" fill="#222" textLength="13.65" lengthAdjust="spacing" font-weight="bold" >E.</text>
<text transform="translate(735.4 705.2) scale(0.72 1)" font-family='"Liberation Sans","Noto Sans CJK SC",sans-serif' font-size="13.5" fill="#222" textLength="95.56" lengthAdjust="spacing" font-weight="900" >法兰立杆式</text>
<text x="814.3" y="704.6" font-family='"Liberation Serif","Noto Serif CJK SC",serif' font-size="15" fill="#222" textLength="71.5" lengthAdjust="spacingAndGlyphs" letter-spacing="0.3" >Flange type</text>
</svg>
<table class="parts"><colgroup><col style="width:66px"><col style="width:280px"><col style="width:80.8px"></colgroup><thead><tr><th><div class="cell"><span id="h0_0" class="t h" style="left:2.31px;transform:scaleX(1.0500)">序号</span><span id="h0_1" class="t l l15" style="left:39.31px;transform:scaleX(0.9757)">No.</span></div></th><th><div class="cell"><span id="h1_0" class="t h" style="left:91.91px;transform:scaleX(1.0286)">名称</span><span id="h1_1" class="t l l15" style="left:125.31px;transform:scaleX(0.9617)">Description</span></div></th><th><div class="cell"><span id="h2_0" class="t h" style="left:5.71px;transform:scaleX(1.0571)">备注</span><span id="h2_1" class="t l l15" style="left:42.31px;transform:scaleX(1.0165)">Note</span></div></th></tr></thead><tbody><tr><td class="no"><span>1</span></td><td><div class="cell"><span id="r0_0" class="t cn" style="left:10.41px;transform:scaleX(0.5980)"><i class="p0">(</i>膨胀<i class="q">)</i>螺栓<i class="p">(</i>用户自备<i class="q">)</i></span><span id="r0_1" class="t l ln" style="left:107.81px;transform:scaleX(0.6980)">(Expansion) bolt (prepared by user)</span></div></td><td></td></tr><tr><td class="no"><span>2</span></td><td><div class="cell"><span id="r1_0" class="t l" style="left:9.81px;transform:scaleX(0.8169)">G3/4″</span><span id="r1_1" class="t c" style="left:57.61px;transform:scaleX(0.7572)">吊管</span><span id="r1_2" class="t l" style="left:92.11px;transform:scaleX(0.9540)">Boom</span></div></td><td></td></tr><tr><td class="no"><span>3</span></td><td><div class="cell"><span id="r2_0" class="t c" style="left:11.41px;transform:scaleX(0.7814)">灯具</span><span id="r2_1" class="t l" style="left:46.81px;transform:scaleX(0.9570)">Lamp</span></div></td><td></td></tr><tr><td class="no"><span>4</span></td><td><div class="cell"><span id="r3_0" class="t cn" style="left:10.81px;transform:scaleX(0.4745)">防爆接线盒<i class="p">(</i>用户另购<i class="q">)</i></span><span id="r3_1" class="t l ln" style="left:93.11px;transform:scaleX(0.5697)">Explosion-proof junction box (order separately)</span></div></td><td></td></tr><tr><td class="no"><span>5</span></td><td><div class="cell"><span id="r4_0" class="t cn" style="left:10.81px;transform:scaleX(0.5235)">防爆活接头<i class="p">(</i>用户另购<i class="q">)</i></span><span id="r4_1" class="t l ln" style="left:101.71px;transform:scaleX(0.6315)">Explosion-proof union (order separately)</span></div></td><td></td></tr><tr><td class="no"><span>6</span></td><td><div class="cell"><span id="r5_0" class="t l" style="left:9.81px;transform:scaleX(0.9237)">90°</span><span id="r5_1" class="t c" style="left:41.31px;transform:scaleX(0.7754)">弯管</span><span id="r5_2" class="t l" style="left:75.91px;transform:scaleX(0.9237)">90°</span><span id="r5_3" class="t l" style="left:105.71px;transform:scaleX(0.9374)">Bend-rod type</span></div></td><td></td></tr><tr><td class="no"><span>7</span></td><td><div class="cell"><span id="r6_0" class="t c" style="left:12.51px;transform:scaleX(0.7483)">拉杆及螺母</span><span id="r6_1" class="t l" style="left:91.11px;transform:scaleX(0.9218)">Pull rod and nut</span></div></td><td></td></tr><tr><td class="no"><span>8</span></td><td><div class="cell"><span id="r7_0" class="t c" style="left:12.51px;transform:scaleX(0.7481)">钩钉</span><span id="r7_1" class="t l" style="left:46.41px;transform:scaleX(0.9311)">Hook nail</span></div></td><td></td></tr><tr><td class="no"><span>9</span></td><td><div class="cell"><span id="r8_0" class="t l" style="left:9.81px;transform:scaleX(0.9441)">120°</span><span id="r8_1" class="t c" style="left:49.41px;transform:scaleX(0.7390)">弯管</span><span id="r8_2" class="t l" style="left:83.01px;transform:scaleX(0.9408)">120°</span><span id="r8_3" class="t l" style="left:120.61px;transform:scaleX(0.9352)">Bend-rod type</span></div></td><td></td></tr><tr><td class="no"><span>10</span></td><td><div class="cell"><span id="r9_0" class="t l" style="left:9.81px;transform:scaleX(0.9210)">1 1/4″</span><span id="r9_1" class="t c" style="left:57.61px;transform:scaleX(0.7396)">护栏立杆</span><span id="r9_2" class="t l" style="left:121.01px;transform:scaleX(0.9315)">Guardrail post</span></div></td><td></td></tr><tr><td class="no"><span>11</span></td><td><div class="cell"><span id="r10_0" class="t c" style="left:12.51px;transform:scaleX(0.7360)">管卡</span><span id="r10_1" class="t l" style="left:46.11px;transform:scaleX(0.9281)">Pipe clamp</span></div></td><td></td></tr><tr><td class="no"><span>12</span></td><td><div class="cell"><span id="r11_0" class="t l" style="left:9.81px;transform:scaleX(0.9210)">1 1/4″</span><span id="r11_1" class="t c" style="left:57.21px;transform:scaleX(0.7481)">弯管</span><span id="r11_2" class="t l" style="left:91.11px;transform:scaleX(0.9260)">Elbow tube</span></div></td><td></td></tr><tr><td class="no"><span>13</span></td><td><div class="cell"><span id="r12_0" class="t l" style="left:9.81px;transform:scaleX(0.9210)">1 1/2″</span><span id="r12_1" class="t c" style="left:57.21px;transform:scaleX(0.7450)">法兰立杆</span><span id="r12_2" class="t l" style="left:121.01px;transform:scaleX(0.9284)">Flange post</span></div></td><td></td></tr><tr><td class="no"><span>14</span></td><td><div class="cell"><span id="r13_0" class="t cn" style="left:11.91px;transform:scaleX(0.7439)">护栏<i class="p">(</i>用户自制<i class="q">)</i></span><span id="r13_1" class="t l ln" style="left:100.71px;transform:scaleX(0.8806)">Guardrail (prepared by user)</span></div></td><td></td></tr><tr><td class="no"><span>15</span></td><td><div class="cell"><span id="r14_0" class="t cn" style="left:11.41px;transform:scaleX(0.6233)">固定支架<i class="p">(</i>用户自制<i class="q">)</i></span><span id="r14_1" class="t l ln" style="left:108.41px;transform:scaleX(0.7386)">Fixed support (prepared by user)</span></div></td><td></td></tr><tr><td class="no"><span>16</span></td><td><div class="cell"><span id="r15_0" class="t l ln" style="left:9.81px;transform:scaleX(0.7962)">G3/4″</span><span id="r15_1" class="t cn" style="left:45.01px;transform:scaleX(0.6093)">防爆连通节</span><span id="r15_2" class="t l ln" style="left:102.71px;transform:scaleX(0.7447)">Explosion-proof connection joint</span></div></td><td></td></tr></tbody></table>
</div></div></body></html>
